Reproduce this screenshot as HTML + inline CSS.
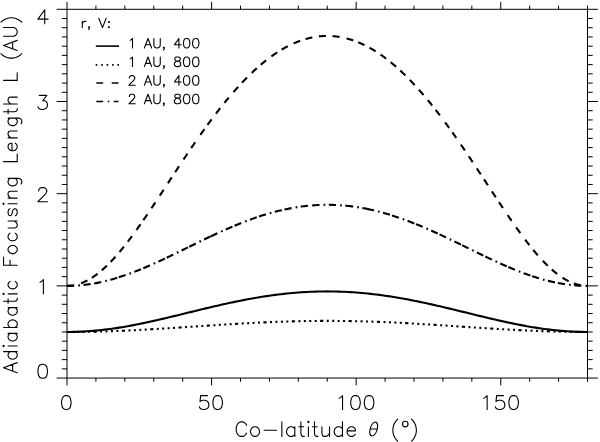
<!DOCTYPE html>
<html><head><meta charset="utf-8"><title>Adiabatic Focusing Length vs Co-latitude</title><style>html,body{margin:0;padding:0;background:#fff;overflow:hidden;font-family:"Liberation Sans",sans-serif;}svg{display:block;}.sr{position:absolute;width:1px;height:1px;padding:0;margin:-1px;overflow:hidden;clip:rect(0,0,0,0);white-space:nowrap;border:0;}</style></head>
<body><figure style="margin:0"><svg width="600" height="442" viewBox="0 0 600 442" role="img" aria-labelledby="ttl dsc">
<title id="ttl">Adiabatic Focusing Length L (AU) versus Co-latitude θ (°)</title>
<desc id="dsc">Line plot. Legend r, V: 1 AU, 400 (solid); 1 AU, 800 (dotted); 2 AU, 400 (dashed); 2 AU, 800 (dash-dot). X axis 0, 50, 100, 150. Y axis 0, 1, 2, 3, 4.</desc>
<rect width="600" height="442" fill="#fff"/>
<g>
<path d="M67.0 9.3 L587.5 9.3 M67.0 378.05 L587.5 378.05 M67.0 9.3 L67.0 378.05 M587.5 9.3 L587.5 378.05 M67.0 378.05 L56.60 378.05 M587.5 378.05 L597.90 378.05 M67.0 368.83 L61.80 368.83 M587.5 368.83 L592.70 368.83 M67.0 359.61 L61.80 359.61 M587.5 359.61 L592.70 359.61 M67.0 350.39 L61.80 350.39 M587.5 350.39 L592.70 350.39 M67.0 341.18 L61.80 341.18 M587.5 341.18 L592.70 341.18 M67.0 331.96 L61.80 331.96 M587.5 331.96 L592.70 331.96 M67.0 322.74 L61.80 322.74 M587.5 322.74 L592.70 322.74 M67.0 313.52 L61.80 313.52 M587.5 313.52 L592.70 313.52 M67.0 304.30 L61.80 304.30 M587.5 304.30 L592.70 304.30 M67.0 295.08 L61.80 295.08 M587.5 295.08 L592.70 295.08 M67.0 285.86 L56.60 285.86 M587.5 285.86 L597.90 285.86 M67.0 276.64 L61.80 276.64 M587.5 276.64 L592.70 276.64 M67.0 267.43 L61.80 267.43 M587.5 267.43 L592.70 267.43 M67.0 258.21 L61.80 258.21 M587.5 258.21 L592.70 258.21 M67.0 248.99 L61.80 248.99 M587.5 248.99 L592.70 248.99 M67.0 239.77 L61.80 239.77 M587.5 239.77 L592.70 239.77 M67.0 230.55 L61.80 230.55 M587.5 230.55 L592.70 230.55 M67.0 221.33 L61.80 221.33 M587.5 221.33 L592.70 221.33 M67.0 212.11 L61.80 212.11 M587.5 212.11 L592.70 212.11 M67.0 202.89 L61.80 202.89 M587.5 202.89 L592.70 202.89 M67.0 193.68 L56.60 193.68 M587.5 193.68 L597.90 193.68 M67.0 184.46 L61.80 184.46 M587.5 184.46 L592.70 184.46 M67.0 175.24 L61.80 175.24 M587.5 175.24 L592.70 175.24 M67.0 166.02 L61.80 166.02 M587.5 166.02 L592.70 166.02 M67.0 156.80 L61.80 156.80 M587.5 156.80 L592.70 156.80 M67.0 147.58 L61.80 147.58 M587.5 147.58 L592.70 147.58 M67.0 138.36 L61.80 138.36 M587.5 138.36 L592.70 138.36 M67.0 129.14 L61.80 129.14 M587.5 129.14 L592.70 129.14 M67.0 119.93 L61.80 119.93 M587.5 119.93 L592.70 119.93 M67.0 110.71 L61.80 110.71 M587.5 110.71 L592.70 110.71 M67.0 101.49 L56.60 101.49 M587.5 101.49 L597.90 101.49 M67.0 92.27 L61.80 92.27 M587.5 92.27 L592.70 92.27 M67.0 83.05 L61.80 83.05 M587.5 83.05 L592.70 83.05 M67.0 73.83 L61.80 73.83 M587.5 73.83 L592.70 73.83 M67.0 64.61 L61.80 64.61 M587.5 64.61 L592.70 64.61 M67.0 55.39 L61.80 55.39 M587.5 55.39 L592.70 55.39 M67.0 46.18 L61.80 46.18 M587.5 46.18 L592.70 46.18 M67.0 36.96 L61.80 36.96 M587.5 36.96 L592.70 36.96 M67.0 27.74 L61.80 27.74 M587.5 27.74 L592.70 27.74 M67.0 18.52 L61.80 18.52 M587.5 18.52 L592.70 18.52 M67.0 9.30 L56.60 9.30 M587.5 9.30 L597.90 9.30 M67.00 378.05 L67.00 385.42 M67.00 9.3 L67.00 1.93 M95.92 378.05 L95.92 381.74 M95.92 9.3 L95.92 5.61 M124.83 378.05 L124.83 381.74 M124.83 9.3 L124.83 5.61 M153.75 378.05 L153.75 381.74 M153.75 9.3 L153.75 5.61 M182.67 378.05 L182.67 381.74 M182.67 9.3 L182.67 5.61 M211.58 378.05 L211.58 385.42 M211.58 9.3 L211.58 1.93 M240.50 378.05 L240.50 381.74 M240.50 9.3 L240.50 5.61 M269.42 378.05 L269.42 381.74 M269.42 9.3 L269.42 5.61 M298.33 378.05 L298.33 381.74 M298.33 9.3 L298.33 5.61 M327.25 378.05 L327.25 381.74 M327.25 9.3 L327.25 5.61 M356.17 378.05 L356.17 385.42 M356.17 9.3 L356.17 1.93 M385.08 378.05 L385.08 381.74 M385.08 9.3 L385.08 5.61 M414.00 378.05 L414.00 381.74 M414.00 9.3 L414.00 5.61 M442.92 378.05 L442.92 381.74 M442.92 9.3 L442.92 5.61 M471.83 378.05 L471.83 381.74 M471.83 9.3 L471.83 5.61 M500.75 378.05 L500.75 385.42 M500.75 9.3 L500.75 1.93 M529.67 378.05 L529.67 381.74 M529.67 9.3 L529.67 5.61 M558.58 378.05 L558.58 381.74 M558.58 9.3 L558.58 5.61 M587.50 378.05 L587.50 381.74 M587.50 9.3 L587.50 5.61" fill="none" stroke="#000" stroke-width="1.0"/>
<path d="M42.02 364.23 L39.98 364.90 L38.62 366.91 L37.94 370.26 L37.94 372.27 L38.62 375.62 L39.98 377.63 L42.02 378.30 L43.38 378.30 L45.42 377.63 L46.78 375.62 L47.46 372.27 L47.46 370.26 L46.78 366.91 L45.42 364.90 L43.38 364.23 L42.02 364.23 M39.98 282.27 L41.34 281.60 L43.38 279.59 L43.38 293.66 M38.62 190.96 L38.62 190.29 L39.30 188.95 L39.98 188.28 L41.34 187.61 L44.06 187.61 L45.42 188.28 L46.10 188.95 L46.78 190.29 L46.78 191.62 L46.10 192.97 L44.74 194.98 L37.94 201.68 L47.46 201.68 M39.30 95.42 L46.78 95.42 L42.70 100.78 L44.74 100.78 L46.10 101.45 L46.78 102.12 L47.46 104.13 L47.46 105.47 L46.78 107.48 L45.42 108.82 L43.38 109.49 L41.34 109.49 L39.30 108.82 L38.62 108.15 L37.94 106.81 M44.74 9.73 L37.94 19.11 L48.14 19.11 M44.74 9.73 L44.74 23.80 M65.62 395.64 L63.58 396.30 L62.22 398.28 L61.54 401.58 L61.54 403.56 L62.22 406.86 L63.58 408.84 L65.62 409.50 L66.98 409.50 L69.02 408.84 L70.38 406.86 L71.06 403.56 L71.06 401.58 L70.38 398.28 L69.02 396.30 L66.98 395.64 L65.62 395.64 M207.48 395.64 L200.68 395.64 L200.00 401.58 L200.68 400.92 L202.72 400.26 L204.76 400.26 L206.80 400.92 L208.16 402.24 L208.84 404.22 L208.84 405.54 L208.16 407.52 L206.80 408.84 L204.76 409.50 L202.72 409.50 L200.68 408.84 L200.00 408.18 L199.32 406.86 M217.00 395.64 L214.96 396.30 L213.60 398.28 L212.92 401.58 L212.92 403.56 L213.60 406.86 L214.96 408.84 L217.00 409.50 L218.36 409.50 L220.40 408.84 L221.76 406.86 L222.44 403.56 L222.44 401.58 L221.76 398.28 L220.40 396.30 L218.36 395.64 L217.00 395.64 M339.15 398.28 L340.51 397.62 L342.55 395.64 L342.55 409.50 M354.79 395.64 L352.75 396.30 L351.39 398.28 L350.71 401.58 L350.71 403.56 L351.39 406.86 L352.75 408.84 L354.79 409.50 L356.15 409.50 L358.19 408.84 L359.55 406.86 L360.23 403.56 L360.23 401.58 L359.55 398.28 L358.19 396.30 L356.15 395.64 L354.79 395.64 M368.39 395.64 L366.35 396.30 L364.99 398.28 L364.31 401.58 L364.31 403.56 L364.99 406.86 L366.35 408.84 L368.39 409.50 L369.75 409.50 L371.79 408.84 L373.15 406.86 L373.83 403.56 L373.83 401.58 L373.15 398.28 L371.79 396.30 L369.75 395.64 L368.39 395.64 M483.73 398.28 L485.09 397.62 L487.13 395.64 L487.13 409.50 M503.45 395.64 L496.65 395.64 L495.97 401.58 L496.65 400.92 L498.69 400.26 L500.73 400.26 L502.77 400.92 L504.13 402.24 L504.81 404.22 L504.81 405.54 L504.13 407.52 L502.77 408.84 L500.73 409.50 L498.69 409.50 L496.65 408.84 L495.97 408.18 L495.29 406.86 M512.97 395.64 L510.93 396.30 L509.57 398.28 L508.89 401.58 L508.89 403.56 L509.57 406.86 L510.93 408.84 L512.97 409.50 L514.33 409.50 L516.37 408.84 L517.73 406.86 L518.41 403.56 L518.41 401.58 L517.73 398.28 L516.37 396.30 L514.33 395.64 L512.97 395.64 M246.57 425.36 L245.88 423.98 L244.50 422.60 L243.12 421.91 L240.36 421.91 L238.98 422.60 L237.60 423.98 L236.91 425.36 L236.22 427.43 L236.22 430.88 L236.91 432.95 L237.60 434.33 L238.98 435.71 L240.36 436.40 L243.12 436.40 L244.50 435.71 L245.88 434.33 L246.57 432.95 M253.97 426.74 L252.59 427.43 L251.21 428.81 L250.51 430.88 L250.51 432.26 L251.21 434.33 L252.59 435.71 L253.97 436.40 L256.04 436.40 L257.42 435.71 L258.80 434.33 L259.49 432.26 L259.49 430.88 L258.80 428.81 L257.42 427.43 L256.04 426.74 L253.97 426.74 M264.09 430.19 L276.51 430.19 M281.86 421.91 L281.86 436.40 M294.83 426.74 L294.83 436.40 M294.83 428.81 L293.45 427.43 L292.07 426.74 L290.00 426.74 L288.62 427.43 L287.24 428.81 L286.55 430.88 L286.55 432.26 L287.24 434.33 L288.62 435.71 L290.00 436.40 L292.07 436.40 L293.45 435.71 L294.83 434.33 M300.89 421.91 L300.89 433.64 L301.58 435.71 L302.96 436.40 L304.34 436.40 M298.82 426.74 L303.65 426.74 M307.69 421.91 L308.38 422.60 L309.07 421.91 L308.38 421.22 L307.69 421.91 M308.38 426.74 L308.38 436.40 M314.49 421.91 L314.49 433.64 L315.18 435.71 L316.56 436.40 L317.94 436.40 M312.42 426.74 L317.25 426.74 M321.93 426.74 L321.93 433.64 L322.62 435.71 L324.00 436.40 L326.07 436.40 L327.45 435.71 L329.52 433.64 M329.52 426.74 L329.52 436.40 M342.44 421.91 L342.44 436.40 M342.44 428.81 L341.06 427.43 L339.68 426.74 L337.61 426.74 L336.23 427.43 L334.85 428.81 L334.16 430.88 L334.16 432.26 L334.85 434.33 L336.23 435.71 L337.61 436.40 L339.68 436.40 L341.06 435.71 L342.44 434.33 M347.08 430.88 L355.36 430.88 L355.36 429.50 L354.67 428.12 L353.98 427.43 L352.60 426.74 L350.53 426.74 L349.15 427.43 L347.77 428.81 L347.08 430.88 L347.08 432.26 L347.77 434.33 L349.15 435.71 L350.53 436.40 L352.60 436.40 L353.98 435.71 L355.36 434.33 M397.70 419.15 L396.32 420.53 L394.94 422.60 L393.56 425.36 L392.87 428.81 L392.87 431.57 L393.56 435.02 L394.94 437.78 L396.32 439.85 L397.70 441.23 M411.50 419.15 L412.88 420.53 L414.26 422.60 L415.64 425.36 L416.33 428.81 L416.33 431.57 L415.64 435.02 L414.26 437.78 L412.88 439.85 L411.50 441.23 M130.23 40.27 L131.14 39.81 L132.51 38.45 L132.51 48.00 M147.97 38.45 L144.34 48.00 M147.97 38.45 L151.61 48.00 M145.70 44.81 L150.25 44.81 M153.89 38.45 L153.89 45.27 L154.34 46.63 L155.25 47.55 L156.62 48.00 L157.53 48.00 L158.89 47.55 L159.80 46.63 L160.26 45.27 L160.26 38.45 M164.35 47.55 L163.90 48.00 L163.44 47.55 L163.90 47.09 L164.35 47.55 L164.35 48.45 L163.90 49.37 L163.44 49.82 M178.91 38.45 L174.36 44.81 L181.19 44.81 M178.91 38.45 L178.91 48.00 M186.19 38.45 L184.83 38.90 L183.92 40.27 L183.46 42.54 L183.46 43.91 L183.92 46.18 L184.83 47.55 L186.19 48.00 L187.10 48.00 L188.47 47.55 L189.38 46.18 L189.83 43.91 L189.83 42.54 L189.38 40.27 L188.47 38.90 L187.10 38.45 L186.19 38.45 M195.29 38.45 L193.93 38.90 L193.02 40.27 L192.56 42.54 L192.56 43.91 L193.02 46.18 L193.93 47.55 L195.29 48.00 L196.20 48.00 L197.57 47.55 L198.48 46.18 L198.93 43.91 L198.93 42.54 L198.48 40.27 L197.57 38.90 L196.20 38.45 L195.29 38.45 M130.23 58.86 L131.14 58.41 L132.51 57.04 L132.51 66.60 M147.97 57.04 L144.34 66.60 M147.97 57.04 L151.61 66.60 M145.70 63.41 L150.25 63.41 M153.89 57.04 L153.89 63.87 L154.34 65.23 L155.25 66.14 L156.62 66.60 L157.53 66.60 L158.89 66.14 L159.80 65.23 L160.26 63.87 L160.26 57.04 M164.35 66.14 L163.90 66.60 L163.44 66.14 L163.90 65.69 L164.35 66.14 L164.35 67.05 L163.90 67.96 L163.44 68.42 M176.64 57.04 L175.27 57.50 L174.82 58.41 L174.82 59.32 L175.27 60.23 L176.18 60.68 L178.00 61.14 L179.37 61.59 L180.28 62.50 L180.73 63.41 L180.73 64.78 L180.28 65.69 L179.82 66.14 L178.46 66.60 L176.64 66.60 L175.27 66.14 L174.82 65.69 L174.36 64.78 L174.36 63.41 L174.82 62.50 L175.73 61.59 L177.09 61.14 L178.91 60.68 L179.82 60.23 L180.28 59.32 L180.28 58.41 L179.82 57.50 L178.46 57.04 L176.64 57.04 M186.19 57.04 L184.83 57.50 L183.92 58.86 L183.46 61.14 L183.46 62.50 L183.92 64.78 L184.83 66.14 L186.19 66.60 L187.10 66.60 L188.47 66.14 L189.38 64.78 L189.83 62.50 L189.83 61.14 L189.38 58.86 L188.47 57.50 L187.10 57.04 L186.19 57.04 M195.29 57.04 L193.93 57.50 L193.02 58.86 L192.56 61.14 L192.56 62.50 L193.02 64.78 L193.93 66.14 L195.29 66.60 L196.20 66.60 L197.57 66.14 L198.48 64.78 L198.93 62.50 L198.93 61.14 L198.48 58.86 L197.57 57.50 L196.20 57.04 L195.29 57.04 M129.32 77.92 L129.32 77.47 L129.78 76.56 L130.23 76.10 L131.14 75.65 L132.96 75.65 L133.87 76.10 L134.33 76.56 L134.78 77.47 L134.78 78.38 L134.33 79.28 L133.42 80.65 L128.87 85.20 L135.24 85.20 M147.97 75.65 L144.34 85.20 M147.97 75.65 L151.61 85.20 M145.70 82.02 L150.25 82.02 M153.89 75.65 L153.89 82.47 L154.34 83.84 L155.25 84.75 L156.62 85.20 L157.53 85.20 L158.89 84.75 L159.80 83.84 L160.26 82.47 L160.26 75.65 M164.35 84.75 L163.90 85.20 L163.44 84.75 L163.90 84.29 L164.35 84.75 L164.35 85.66 L163.90 86.56 L163.44 87.02 M178.91 75.65 L174.36 82.02 L181.19 82.02 M178.91 75.65 L178.91 85.20 M186.19 75.65 L184.83 76.10 L183.92 77.47 L183.46 79.74 L183.46 81.11 L183.92 83.38 L184.83 84.75 L186.19 85.20 L187.10 85.20 L188.47 84.75 L189.38 83.38 L189.83 81.11 L189.83 79.74 L189.38 77.47 L188.47 76.10 L187.10 75.65 L186.19 75.65 M195.29 75.65 L193.93 76.10 L193.02 77.47 L192.56 79.74 L192.56 81.11 L193.02 83.38 L193.93 84.75 L195.29 85.20 L196.20 85.20 L197.57 84.75 L198.48 83.38 L198.93 81.11 L198.93 79.74 L198.48 77.47 L197.57 76.10 L196.20 75.65 L195.29 75.65 M129.32 96.52 L129.32 96.06 L129.78 95.16 L130.23 94.70 L131.14 94.25 L132.96 94.25 L133.87 94.70 L134.33 95.16 L134.78 96.06 L134.78 96.97 L134.33 97.88 L133.42 99.25 L128.87 103.80 L135.24 103.80 M147.97 94.25 L144.34 103.80 M147.97 94.25 L151.61 103.80 M145.70 100.61 L150.25 100.61 M153.89 94.25 L153.89 101.07 L154.34 102.44 L155.25 103.34 L156.62 103.80 L157.53 103.80 L158.89 103.34 L159.80 102.44 L160.26 101.07 L160.26 94.25 M164.35 103.34 L163.90 103.80 L163.44 103.34 L163.90 102.89 L164.35 103.34 L164.35 104.25 L163.90 105.16 L163.44 105.62 M176.64 94.25 L175.27 94.70 L174.82 95.61 L174.82 96.52 L175.27 97.43 L176.18 97.88 L178.00 98.34 L179.37 98.80 L180.28 99.70 L180.73 100.61 L180.73 101.98 L180.28 102.89 L179.82 103.34 L178.46 103.80 L176.64 103.80 L175.27 103.34 L174.82 102.89 L174.36 101.98 L174.36 100.61 L174.82 99.70 L175.73 98.80 L177.09 98.34 L178.91 97.88 L179.82 97.43 L180.28 96.52 L180.28 95.61 L179.82 94.70 L178.46 94.25 L176.64 94.25 M186.19 94.25 L184.83 94.70 L183.92 96.06 L183.46 98.34 L183.46 99.70 L183.92 101.98 L184.83 103.34 L186.19 103.80 L187.10 103.80 L188.47 103.34 L189.38 101.98 L189.83 99.70 L189.83 98.34 L189.38 96.06 L188.47 94.70 L187.10 94.25 L186.19 94.25 M195.29 94.25 L193.93 94.70 L193.02 96.06 L192.56 98.34 L192.56 99.70 L193.02 101.98 L193.93 103.34 L195.29 103.80 L196.20 103.80 L197.57 103.34 L198.48 101.98 L198.93 99.70 L198.93 98.34 L198.48 96.06 L197.57 94.70 L196.20 94.25 L195.29 94.25 M82.31 21.37 L82.31 27.60 M82.31 24.04 L82.77 22.71 L83.69 21.82 L84.61 21.37 L85.99 21.37 M89.49 27.16 L89.03 27.60 L88.58 27.16 L89.03 26.71 L89.49 27.16 L89.49 28.05 L89.03 28.94 L88.58 29.38 M98.80 18.26 L102.48 27.60 M106.16 18.26 L102.48 27.60" fill="none" stroke="#000" stroke-width="1.1" stroke-linecap="round" stroke-linejoin="round"/>
<rect x="108.0" y="21.1" width="1.8" height="1.8" fill="#000"/><rect x="108.0" y="26.3" width="1.8" height="1.8" fill="#000"/>
<path transform="translate(17.2 373.75) rotate(-90)" d="M6.09 -13.65 L1.05 0.00 M6.09 -13.65 L11.13 0.00 M2.94 -4.55 L9.24 -4.55 M22.08 -13.65 L22.08 0.00 M22.08 -7.15 L20.82 -8.45 L19.56 -9.10 L17.67 -9.10 L16.41 -8.45 L15.15 -7.15 L14.52 -5.20 L14.52 -3.90 L15.15 -1.95 L16.41 -0.65 L17.67 0.00 L19.56 0.00 L20.82 -0.65 L22.08 -1.95 M27.13 -13.65 L27.76 -13.00 L28.39 -13.65 L27.76 -14.30 L27.13 -13.65 M27.76 -9.10 L27.76 0.00 M40.36 -9.10 L40.36 0.00 M40.36 -7.15 L39.10 -8.45 L37.84 -9.10 L35.95 -9.10 L34.69 -8.45 L33.43 -7.15 L32.80 -5.20 L32.80 -3.90 L33.43 -1.95 L34.69 -0.65 L35.95 0.00 L37.84 0.00 L39.10 -0.65 L40.36 -1.95 M46.29 -13.65 L46.29 0.00 M46.29 -7.15 L47.55 -8.45 L48.81 -9.10 L50.70 -9.10 L51.96 -8.45 L53.22 -7.15 L53.85 -5.20 L53.85 -3.90 L53.22 -1.95 L51.96 -0.65 L50.70 0.00 L48.81 0.00 L47.55 -0.65 L46.29 -1.95 M66.09 -9.10 L66.09 0.00 M66.09 -7.15 L64.83 -8.45 L63.57 -9.10 L61.68 -9.10 L60.42 -8.45 L59.16 -7.15 L58.53 -5.20 L58.53 -3.90 L59.16 -1.95 L60.42 -0.65 L61.68 0.00 L63.57 0.00 L64.83 -0.65 L66.09 -1.95 M72.49 -13.65 L72.49 -2.60 L73.12 -0.65 L74.38 0.00 L75.64 0.00 M70.60 -9.10 L75.01 -9.10 M79.26 -13.65 L79.89 -13.00 L80.52 -13.65 L79.89 -14.30 L79.26 -13.65 M79.89 -9.10 L79.89 0.00 M92.47 -7.15 L91.21 -8.45 L89.95 -9.10 L88.06 -9.10 L86.80 -8.45 L85.54 -7.15 L84.91 -5.20 L84.91 -3.90 L85.54 -1.95 L86.80 -0.65 L88.06 0.00 L89.95 0.00 L91.21 -0.65 L92.47 -1.95 M108.55 -13.65 L108.55 0.00 M108.55 -13.65 L116.75 -13.65 M108.55 -7.15 L113.59 -7.15 M123.28 -9.10 L122.02 -8.45 L120.76 -7.15 L120.13 -5.20 L120.13 -3.90 L120.76 -1.95 L122.02 -0.65 L123.28 0.00 L125.17 0.00 L126.43 -0.65 L127.69 -1.95 L128.32 -3.90 L128.32 -5.20 L127.69 -7.15 L126.43 -8.45 L125.17 -9.10 L123.28 -9.10 M140.53 -7.15 L139.27 -8.45 L138.01 -9.10 L136.12 -9.10 L134.86 -8.45 L133.60 -7.15 L132.97 -5.20 L132.97 -3.90 L133.60 -1.95 L134.86 -0.65 L136.12 0.00 L138.01 0.00 L139.27 -0.65 L140.53 -1.95 M145.81 -9.10 L145.81 -2.60 L146.44 -0.65 L147.70 0.00 L149.59 0.00 L150.85 -0.65 L152.74 -2.60 M152.74 -9.10 L152.74 0.00 M164.93 -7.15 L164.30 -8.45 L162.41 -9.10 L160.52 -9.10 L158.63 -8.45 L158.00 -7.15 L158.63 -5.85 L159.89 -5.20 L163.04 -4.55 L164.30 -3.90 L164.93 -2.60 L164.93 -1.95 L164.30 -0.65 L162.41 0.00 L160.52 0.00 L158.63 -0.65 L158.00 -1.95 M169.30 -13.65 L169.93 -13.00 L170.56 -13.65 L169.93 -14.30 L169.30 -13.65 M169.93 -9.10 L169.93 0.00 M175.60 -9.10 L175.60 0.00 M175.60 -6.50 L177.49 -8.45 L178.75 -9.10 L180.64 -9.10 L181.90 -8.45 L182.53 -6.50 L182.53 0.00 M195.39 -9.10 L195.39 1.30 L194.76 3.25 L194.13 3.90 L192.87 4.55 L190.98 4.55 L189.72 3.90 M195.39 -7.15 L194.13 -8.45 L192.87 -9.10 L190.98 -9.10 L189.72 -8.45 L188.46 -7.15 L187.83 -5.20 L187.83 -3.90 L188.46 -1.95 L189.72 -0.65 L190.98 0.00 L192.87 0.00 L194.13 -0.65 L195.39 -1.95 M212.11 -13.65 L212.11 0.00 M212.11 0.00 L219.67 0.00 M223.01 -5.20 L230.57 -5.20 L230.57 -6.50 L229.94 -7.80 L229.31 -8.45 L228.05 -9.10 L226.16 -9.10 L224.91 -8.45 L223.64 -7.15 L223.01 -5.20 L223.01 -3.90 L223.64 -1.95 L224.91 -0.65 L226.16 0.00 L228.05 0.00 L229.31 -0.65 L230.57 -1.95 M235.85 -9.10 L235.85 0.00 M235.85 -6.50 L237.74 -8.45 L239.00 -9.10 L240.89 -9.10 L242.15 -8.45 L242.78 -6.50 L242.78 0.00 M255.65 -9.10 L255.65 1.30 L255.02 3.25 L254.39 3.90 L253.13 4.55 L251.24 4.55 L249.98 3.90 M255.65 -7.15 L254.39 -8.45 L253.13 -9.10 L251.24 -9.10 L249.98 -8.45 L248.72 -7.15 L248.09 -5.20 L248.09 -3.90 L248.72 -1.95 L249.98 -0.65 L251.24 0.00 L253.13 0.00 L254.39 -0.65 L255.65 -1.95 M262.05 -13.65 L262.05 -2.60 L262.68 -0.65 L263.94 0.00 L265.20 0.00 M260.16 -9.10 L264.57 -9.10 M269.70 -13.65 L269.70 0.00 M269.70 -6.50 L271.59 -8.45 L272.85 -9.10 L274.74 -9.10 L276.00 -8.45 L276.63 -6.50 L276.63 0.00 M293.35 -13.65 L293.35 0.00 M293.35 0.00 L300.91 0.00 M320.03 -16.25 L318.77 -14.95 L317.51 -13.00 L316.25 -10.40 L315.62 -7.15 L315.62 -4.55 L316.25 -1.30 L317.51 1.30 L318.77 3.25 L320.03 4.55 M328.35 -13.65 L323.31 0.00 M328.35 -13.65 L333.39 0.00 M325.20 -4.55 L331.50 -4.55 M337.48 -13.65 L337.48 -3.90 L338.11 -1.95 L339.37 -0.65 L341.26 0.00 L342.52 0.00 L344.41 -0.65 L345.67 -1.95 L346.30 -3.90 L346.30 -13.65 M351.55 -16.25 L352.81 -14.95 L354.07 -13.00 L355.33 -10.40 L355.96 -7.15 L355.96 -4.55 L355.33 -1.30 L354.07 1.30 L352.81 3.25 L351.55 4.55" fill="none" stroke="#000" stroke-width="1.1" stroke-linecap="round" stroke-linejoin="round"/>
<g transform="translate(373.7 429.0) skewX(-13)"><ellipse rx="3.6" ry="7.0" fill="none" stroke="#000" stroke-width="1.1"/><path d="M-3.6 0 L3.6 0" stroke="#000" stroke-width="1.1"/></g>
<circle cx="405.25" cy="424.1" r="2.8" fill="none" stroke="#000" stroke-width="1.1"/>
<path d="M67.00 331.96 L69.89 331.94 L72.78 331.90 L75.67 331.83 L78.57 331.73 L81.46 331.61 L84.35 331.46 L87.24 331.28 L90.13 331.07 L93.03 330.84 L95.92 330.58 L98.81 330.30 L101.70 329.99 L104.59 329.66 L107.48 329.30 L110.38 328.92 L113.27 328.51 L116.16 328.09 L119.05 327.64 L121.94 327.17 L124.83 326.68 L127.72 326.18 L130.62 325.65 L133.51 325.11 L136.40 324.55 L139.29 323.97 L142.18 323.38 L145.07 322.77 L147.97 322.15 L150.86 321.52 L153.75 320.88 L156.64 320.22 L159.53 319.56 L162.43 318.89 L165.32 318.20 L168.21 317.52 L171.10 316.82 L173.99 316.13 L176.88 315.42 L179.78 314.72 L182.67 314.01 L185.56 313.30 L188.45 312.59 L191.34 311.88 L194.23 311.17 L197.12 310.47 L200.02 309.77 L202.91 309.07 L205.80 308.37 L208.69 307.68 L211.58 307.00 L214.47 306.32 L217.37 305.66 L220.26 305.00 L223.15 304.35 L226.04 303.71 L228.93 303.08 L231.82 302.46 L234.72 301.85 L237.61 301.26 L240.50 300.67 L243.39 300.11 L246.28 299.55 L249.18 299.01 L252.07 298.49 L254.96 297.98 L257.85 297.49 L260.74 297.01 L263.63 296.55 L266.52 296.11 L269.42 295.69 L272.31 295.28 L275.20 294.90 L278.09 294.53 L280.98 294.18 L283.88 293.85 L286.77 293.54 L289.66 293.26 L292.55 292.99 L295.44 292.74 L298.33 292.51 L301.23 292.31 L304.12 292.12 L307.01 291.96 L309.90 291.82 L312.79 291.70 L315.68 291.60 L318.57 291.52 L321.47 291.47 L324.36 291.44 L327.25 291.42 L330.14 291.44 L333.03 291.47 L335.93 291.52 L338.82 291.60 L341.71 291.70 L344.60 291.82 L347.49 291.96 L350.38 292.12 L353.27 292.31 L356.17 292.51 L359.06 292.74 L361.95 292.99 L364.84 293.26 L367.73 293.54 L370.62 293.85 L373.52 294.18 L376.41 294.53 L379.30 294.90 L382.19 295.28 L385.08 295.69 L387.98 296.11 L390.87 296.55 L393.76 297.01 L396.65 297.49 L399.54 297.98 L402.43 298.49 L405.32 299.01 L408.22 299.55 L411.11 300.11 L414.00 300.67 L416.89 301.26 L419.78 301.85 L422.68 302.46 L425.57 303.08 L428.46 303.71 L431.35 304.35 L434.24 305.00 L437.13 305.66 L440.02 306.32 L442.92 307.00 L445.81 307.68 L448.70 308.37 L451.59 309.07 L454.48 309.77 L457.38 310.47 L460.27 311.17 L463.16 311.88 L466.05 312.59 L468.94 313.30 L471.83 314.01 L474.73 314.72 L477.62 315.42 L480.51 316.13 L483.40 316.82 L486.29 317.52 L489.18 318.20 L492.07 318.89 L494.97 319.56 L497.86 320.22 L500.75 320.88 L503.64 321.52 L506.53 322.15 L509.43 322.77 L512.32 323.38 L515.21 323.97 L518.10 324.55 L520.99 325.11 L523.88 325.65 L526.77 326.18 L529.67 326.68 L532.56 327.17 L535.45 327.64 L538.34 328.09 L541.23 328.51 L544.12 328.92 L547.02 329.30 L549.91 329.66 L552.80 329.99 L555.69 330.30 L558.58 330.58 L561.48 330.84 L564.37 331.07 L567.26 331.28 L570.15 331.46 L573.04 331.61 L575.93 331.73 L578.83 331.83 L581.72 331.90 L584.61 331.94 L587.50 331.96" fill="none" stroke="#000" stroke-width="2.1"/>
<path d="M67.00 331.96 L69.89 331.95 L72.78 331.94 L75.67 331.92 L78.57 331.90 L81.46 331.87 L84.35 331.83 L87.24 331.79 L90.13 331.73 L93.03 331.68 L95.92 331.61 L98.81 331.54 L101.70 331.46 L104.59 331.38 L107.48 331.29 L110.38 331.19 L113.27 331.09 L116.16 330.98 L119.05 330.87 L121.94 330.75 L124.83 330.62 L127.72 330.49 L130.62 330.36 L133.51 330.22 L136.40 330.07 L139.29 329.93 L142.18 329.77 L145.07 329.62 L147.97 329.45 L150.86 329.29 L153.75 329.12 L156.64 328.95 L159.53 328.77 L162.43 328.60 L165.32 328.42 L168.21 328.23 L171.10 328.05 L173.99 327.86 L176.88 327.67 L179.78 327.48 L182.67 327.29 L185.56 327.10 L188.45 326.91 L191.34 326.72 L194.23 326.52 L197.12 326.33 L200.02 326.14 L202.91 325.94 L205.80 325.75 L208.69 325.56 L211.58 325.37 L214.47 325.18 L217.37 324.99 L220.26 324.81 L223.15 324.63 L226.04 324.44 L228.93 324.27 L231.82 324.09 L234.72 323.92 L237.61 323.75 L240.50 323.58 L243.39 323.42 L246.28 323.26 L249.18 323.10 L252.07 322.95 L254.96 322.80 L257.85 322.66 L260.74 322.52 L263.63 322.39 L266.52 322.26 L269.42 322.14 L272.31 322.02 L275.20 321.90 L278.09 321.80 L280.98 321.69 L283.88 321.60 L286.77 321.51 L289.66 321.42 L292.55 321.34 L295.44 321.27 L298.33 321.20 L301.23 321.14 L304.12 321.08 L307.01 321.04 L309.90 320.99 L312.79 320.96 L315.68 320.93 L318.57 320.91 L321.47 320.89 L324.36 320.88 L327.25 320.88 L330.14 320.88 L333.03 320.89 L335.93 320.91 L338.82 320.93 L341.71 320.96 L344.60 320.99 L347.49 321.04 L350.38 321.08 L353.27 321.14 L356.17 321.20 L359.06 321.27 L361.95 321.34 L364.84 321.42 L367.73 321.51 L370.62 321.60 L373.52 321.69 L376.41 321.80 L379.30 321.90 L382.19 322.02 L385.08 322.14 L387.98 322.26 L390.87 322.39 L393.76 322.52 L396.65 322.66 L399.54 322.80 L402.43 322.95 L405.32 323.10 L408.22 323.26 L411.11 323.42 L414.00 323.58 L416.89 323.75 L419.78 323.92 L422.68 324.09 L425.57 324.27 L428.46 324.44 L431.35 324.63 L434.24 324.81 L437.13 324.99 L440.02 325.18 L442.92 325.37 L445.81 325.56 L448.70 325.75 L451.59 325.94 L454.48 326.14 L457.38 326.33 L460.27 326.52 L463.16 326.72 L466.05 326.91 L468.94 327.10 L471.83 327.29 L474.73 327.48 L477.62 327.67 L480.51 327.86 L483.40 328.05 L486.29 328.23 L489.18 328.42 L492.07 328.60 L494.97 328.77 L497.86 328.95 L500.75 329.12 L503.64 329.29 L506.53 329.45 L509.43 329.62 L512.32 329.77 L515.21 329.93 L518.10 330.07 L520.99 330.22 L523.88 330.36 L526.77 330.49 L529.67 330.62 L532.56 330.75 L535.45 330.87 L538.34 330.98 L541.23 331.09 L544.12 331.19 L547.02 331.29 L549.91 331.38 L552.80 331.46 L555.69 331.54 L558.58 331.61 L561.48 331.68 L564.37 331.73 L567.26 331.79 L570.15 331.83 L573.04 331.87 L575.93 331.90 L578.83 331.92 L581.72 331.94 L584.61 331.95 L587.50 331.96" fill="none" stroke="#000" stroke-width="2.1" stroke-dasharray="2 3.43 2 3.43 2 3.43 2 3.43 2 3.43 1.22 0" stroke-dashoffset="0.7"/>
<path d="M67.00 285.86 L67.07 285.86 L67.14 285.86 L67.22 285.86 L67.29 285.86 L67.36 285.86 L67.43 285.86 L67.51 285.86 L67.58 285.86 L67.65 285.86 L67.72 285.86 L67.80 285.85 L67.87 285.85 L67.94 285.85 L68.01 285.85 L68.08 285.85 L68.16 285.84 L68.23 285.84 L68.30 285.84 L68.37 285.84 L68.45 285.83 L68.52 285.83 L68.59 285.83 L68.66 285.83 L68.73 285.82 L68.81 285.82 L68.88 285.82 L68.95 285.81 L69.02 285.81 L69.10 285.80 L69.17 285.80 L69.24 285.80 L69.31 285.79 L69.39 285.79 L69.46 285.78 L69.53 285.78 L69.60 285.77 L69.67 285.77 L69.75 285.76 L69.82 285.76 L69.89 285.75 L69.96 285.75 L70.04 285.74 L70.11 285.73 L70.18 285.73 L70.25 285.72 L70.33 285.72 L70.40 285.71 L70.47 285.70 L70.54 285.70 L70.61 285.69 L70.69 285.68 L70.76 285.67 L70.83 285.67 L70.90 285.66 L70.98 285.65 L71.05 285.64 L71.12 285.64 L71.19 285.63 L71.27 285.62 L71.34 285.61 L71.41 285.60 L71.48 285.59 L71.55 285.59 L71.63 285.58 L71.70 285.57 L71.77 285.56 L71.84 285.55 L71.92 285.54 L71.99 285.53 L72.06 285.52 L72.13 285.51 L72.20 285.50 L72.28 285.49 L72.35 285.48 L72.42 285.47 L72.49 285.46 L72.57 285.45 L72.64 285.44 L72.71 285.43 L72.78 285.42 L72.86 285.41 L72.93 285.39 L73.00 285.38 L73.07 285.37 L73.14 285.36 L73.22 285.35 L73.29 285.34 L73.36 285.32 L73.43 285.31 L73.51 285.30 L73.58 285.29 L73.65 285.27 L73.72 285.26 L73.80 285.25 L73.87 285.23 L73.94 285.22 L74.01 285.21 M81.02 283.26 L81.10 283.23 L81.17 283.20 L81.24 283.18 L81.31 283.15 L81.39 283.12 L81.46 283.09 L81.53 283.07 L81.60 283.04 L81.68 283.01 L81.75 282.98 L81.82 282.96 L81.89 282.93 L81.96 282.90 L82.04 282.87 L82.11 282.84 L82.18 282.81 L82.25 282.78 L82.33 282.75 L82.40 282.73 L82.47 282.70 L82.54 282.67 L82.62 282.64 L82.69 282.61 L82.76 282.58 L82.83 282.55 L82.90 282.52 L82.98 282.49 L83.05 282.46 L83.12 282.43 L83.19 282.40 L83.27 282.36 L83.34 282.33 L83.41 282.30 L83.48 282.27 L83.55 282.24 L83.63 282.21 L83.70 282.18 L83.77 282.15 L83.84 282.11 L83.92 282.08 L83.99 282.05 L84.06 282.02 L84.13 281.99 L84.21 281.95 L84.28 281.92 L84.35 281.89 L84.42 281.85 L84.49 281.82 L84.57 281.79 L84.64 281.75 L84.71 281.72 L84.78 281.69 L84.86 281.65 L84.93 281.62 L85.00 281.59 L85.07 281.55 L85.15 281.52 L85.22 281.48 L85.29 281.45 L85.36 281.41 L85.43 281.38 L85.51 281.35 L85.58 281.31 L85.65 281.28 L85.72 281.24 L85.80 281.20 L85.87 281.17 L85.94 281.13 L86.01 281.10 L86.08 281.06 L86.16 281.03 L86.23 280.99 L86.30 280.95 L86.37 280.92 L86.45 280.88 L86.52 280.84 L86.59 280.81 L86.66 280.77 L86.74 280.73 L86.81 280.70 L86.88 280.66 L86.95 280.62 L87.02 280.58 L87.10 280.55 L87.17 280.51 L87.24 280.47 L87.31 280.43 L87.39 280.39 M91.87 277.77 L91.94 277.73 L92.01 277.68 L92.09 277.63 L92.16 277.59 L92.23 277.54 L92.30 277.49 L92.37 277.45 L92.45 277.40 L92.52 277.35 L92.59 277.31 L92.66 277.26 L92.74 277.21 L92.81 277.16 L92.88 277.12 L92.95 277.07 L93.03 277.02 L93.10 276.97 L93.17 276.92 L93.24 276.87 L93.31 276.83 L93.39 276.78 L93.46 276.73 L93.53 276.68 L93.60 276.63 L93.68 276.58 L93.75 276.53 L93.82 276.48 L93.89 276.43 L93.96 276.38 L94.04 276.33 L94.11 276.28 L94.18 276.23 L94.25 276.18 L94.33 276.13 L94.40 276.08 L94.47 276.03 L94.54 275.98 L94.62 275.93 L94.69 275.88 L94.76 275.83 L94.83 275.78 L94.90 275.73 L94.98 275.68 L95.05 275.62 L95.12 275.57 L95.19 275.52 L95.27 275.47 L95.34 275.42 L95.41 275.36 L95.48 275.31 L95.56 275.26 L95.63 275.21 L95.70 275.16 L95.77 275.10 L95.84 275.05 L95.92 275.00 L95.99 274.94 L96.06 274.89 L96.13 274.84 L96.21 274.78 L96.28 274.73 L96.35 274.68 L96.42 274.62 L96.50 274.57 L96.57 274.52 L96.64 274.46 L96.71 274.41 L96.78 274.35 L96.86 274.30 L96.93 274.24 L97.00 274.19 L97.07 274.13 L97.15 274.08 L97.22 274.02 L97.29 273.97 L97.36 273.91 L97.43 273.86 L97.51 273.80 L97.58 273.75 M101.77 270.32 L101.84 270.26 L101.92 270.20 L101.99 270.14 L102.06 270.07 L102.13 270.01 L102.21 269.95 L102.28 269.89 L102.35 269.82 L102.42 269.76 L102.50 269.70 L102.57 269.63 L102.64 269.57 L102.71 269.51 L102.78 269.44 L102.86 269.38 L102.93 269.31 L103.00 269.25 L103.07 269.19 L103.15 269.12 L103.22 269.06 L103.29 268.99 L103.36 268.93 L103.44 268.86 L103.51 268.80 L103.58 268.73 L103.65 268.67 L103.72 268.60 L103.80 268.54 L103.87 268.47 L103.94 268.41 L104.01 268.34 L104.09 268.28 L104.16 268.21 L104.23 268.14 L104.30 268.08 L104.37 268.01 L104.45 267.95 L104.52 267.88 L104.59 267.81 L104.66 267.75 L104.74 267.68 L104.81 267.61 L104.88 267.55 L104.95 267.48 L105.03 267.41 L105.10 267.35 L105.17 267.28 L105.24 267.21 L105.31 267.14 L105.39 267.08 L105.46 267.01 L105.53 266.94 L105.60 266.87 L105.68 266.80 L105.75 266.74 L105.82 266.67 L105.89 266.60 L105.97 266.53 L106.04 266.46 L106.11 266.39 L106.18 266.32 L106.25 266.26 L106.33 266.19 L106.40 266.12 L106.47 266.05 L106.54 265.98 L106.62 265.91 L106.69 265.84 L106.76 265.77 L106.83 265.70 L106.91 265.63 M110.66 261.86 L110.74 261.79 L110.81 261.71 L110.88 261.64 L110.95 261.56 L111.03 261.49 L111.10 261.41 L111.17 261.34 L111.24 261.26 L111.31 261.19 L111.39 261.11 L111.46 261.03 L111.53 260.96 L111.60 260.88 L111.68 260.81 L111.75 260.73 L111.82 260.65 L111.89 260.58 L111.97 260.50 L112.04 260.42 L112.11 260.35 L112.18 260.27 L112.25 260.19 L112.33 260.11 L112.40 260.04 L112.47 259.96 L112.54 259.88 L112.62 259.81 L112.69 259.73 L112.76 259.65 L112.83 259.57 L112.91 259.49 L112.98 259.42 L113.05 259.34 L113.12 259.26 L113.19 259.18 L113.27 259.10 L113.34 259.03 L113.41 258.95 L113.48 258.87 L113.56 258.79 L113.63 258.71 L113.70 258.63 L113.77 258.55 L113.84 258.47 L113.92 258.39 L113.99 258.32 L114.06 258.24 L114.13 258.16 L114.21 258.08 L114.28 258.00 L114.35 257.92 L114.42 257.84 L114.50 257.76 L114.57 257.68 L114.64 257.60 L114.71 257.52 L114.78 257.44 L114.86 257.36 L114.93 257.28 L115.00 257.20 L115.07 257.12 L115.15 257.04 L115.22 256.96 L115.29 256.87 L115.36 256.79 L115.44 256.71 M119.48 252.04 L119.56 251.96 L119.63 251.87 L119.70 251.78 L119.77 251.70 L119.85 251.61 L119.92 251.53 L119.99 251.44 L120.06 251.35 L120.13 251.27 L120.21 251.18 L120.28 251.09 L120.35 251.01 L120.42 250.92 L120.50 250.83 L120.57 250.75 L120.64 250.66 L120.71 250.57 L120.78 250.49 L120.86 250.40 L120.93 250.31 L121.00 250.22 L121.07 250.14 L121.15 250.05 L121.22 249.96 L121.29 249.87 L121.36 249.79 L121.44 249.70 L121.51 249.61 L121.58 249.52 L121.65 249.43 L121.72 249.35 L121.80 249.26 L121.87 249.17 L121.94 249.08 L122.01 248.99 L122.09 248.90 L122.16 248.82 L122.23 248.73 L122.30 248.64 L122.38 248.55 L122.45 248.46 L122.52 248.37 L122.59 248.28 L122.66 248.19 L122.74 248.10 L122.81 248.02 L122.88 247.93 L122.95 247.84 L123.03 247.75 L123.10 247.66 L123.17 247.57 L123.24 247.48 L123.32 247.39 L123.39 247.30 L123.46 247.21 L123.53 247.12 L123.60 247.03 L123.68 246.94 L123.75 246.85 L123.82 246.76 L123.89 246.67 M127.80 241.69 L127.87 241.59 L127.94 241.50 L128.01 241.41 L128.09 241.31 L128.16 241.22 L128.23 241.12 L128.30 241.03 L128.38 240.93 L128.45 240.84 L128.52 240.74 L128.59 240.65 L128.66 240.56 L128.74 240.46 L128.81 240.37 L128.88 240.27 L128.95 240.18 L129.03 240.08 L129.10 239.99 L129.17 239.89 L129.24 239.80 L129.32 239.70 L129.39 239.60 L129.46 239.51 L129.53 239.41 L129.60 239.32 L129.68 239.22 L129.75 239.13 L129.82 239.03 L129.89 238.94 L129.97 238.84 L130.04 238.74 L130.11 238.65 L130.18 238.55 L130.26 238.46 L130.33 238.36 L130.40 238.26 L130.47 238.17 L130.54 238.07 L130.62 237.97 L130.69 237.88 L130.76 237.78 L130.83 237.68 L130.91 237.59 L130.98 237.49 L131.05 237.39 L131.12 237.30 L131.19 237.20 L131.27 237.10 L131.34 237.01 L131.41 236.91 L131.48 236.81 L131.56 236.72 L131.63 236.62 L131.70 236.52 L131.77 236.42 L131.85 236.33 L131.92 236.23 L131.99 236.13 M136.47 229.98 L136.54 229.88 L136.62 229.78 L136.69 229.68 L136.76 229.58 L136.83 229.48 L136.91 229.38 L136.98 229.27 L137.05 229.17 L137.12 229.07 L137.20 228.97 L137.27 228.87 L137.34 228.77 L137.41 228.67 L137.48 228.57 L137.56 228.46 L137.63 228.36 L137.70 228.26 L137.77 228.16 L137.85 228.06 L137.92 227.96 L137.99 227.85 L138.06 227.75 L138.13 227.65 L138.21 227.55 L138.28 227.45 L138.35 227.34 L138.42 227.24 L138.50 227.14 L138.57 227.04 L138.64 226.94 L138.71 226.83 L138.79 226.73 L138.86 226.63 L138.93 226.53 L139.00 226.42 L139.07 226.32 L139.15 226.22 L139.22 226.12 L139.29 226.01 L139.36 225.91 L139.44 225.81 L139.51 225.71 L139.58 225.60 L139.65 225.50 L139.73 225.40 L139.80 225.30 L139.87 225.19 L139.94 225.09 L140.01 224.99 L140.09 224.88 L140.16 224.78 L140.23 224.68 L140.30 224.57 L140.38 224.47 L140.45 224.37 L140.52 224.26 M143.34 220.21 L143.41 220.10 L143.48 220.00 L143.56 219.89 L143.63 219.79 L143.70 219.68 L143.77 219.58 L143.85 219.47 L143.92 219.37 L143.99 219.26 L144.06 219.16 L144.14 219.05 L144.21 218.95 L144.28 218.84 L144.35 218.74 L144.42 218.63 L144.50 218.52 L144.57 218.42 L144.64 218.31 L144.71 218.21 L144.79 218.10 L144.86 218.00 L144.93 217.89 L145.00 217.79 L145.07 217.68 L145.15 217.58 L145.22 217.47 L145.29 217.36 L145.36 217.26 L145.44 217.15 L145.51 217.05 L145.58 216.94 L145.65 216.83 L145.73 216.73 L145.80 216.62 L145.87 216.52 L145.94 216.41 L146.01 216.30 L146.09 216.20 L146.16 216.09 L146.23 215.99 L146.30 215.88 L146.38 215.77 L146.45 215.67 L146.52 215.56 L146.59 215.46 L146.67 215.35 L146.74 215.24 L146.81 215.14 L146.88 215.03 L146.95 214.92 L147.03 214.82 L147.10 214.71 L147.17 214.60 L147.24 214.50 L147.32 214.39 M151.44 208.27 L151.51 208.16 L151.58 208.05 L151.65 207.94 L151.73 207.84 L151.80 207.73 L151.87 207.62 L151.94 207.51 L152.01 207.40 L152.09 207.30 L152.16 207.19 L152.23 207.08 L152.30 206.97 L152.38 206.86 L152.45 206.75 L152.52 206.64 L152.59 206.54 L152.67 206.43 L152.74 206.32 L152.81 206.21 L152.88 206.10 L152.95 205.99 L153.03 205.89 L153.10 205.78 L153.17 205.67 L153.24 205.56 L153.32 205.45 L153.39 205.34 L153.46 205.23 L153.53 205.12 L153.61 205.02 L153.68 204.91 L153.75 204.80 L153.82 204.69 L153.89 204.58 L153.97 204.47 L154.04 204.36 L154.11 204.25 L154.18 204.15 L154.26 204.04 L154.33 203.93 L154.40 203.82 L154.47 203.71 L154.55 203.60 L154.62 203.49 L154.69 203.38 L154.76 203.27 L154.83 203.16 L154.91 203.06 L154.98 202.95 L155.05 202.84 L155.12 202.73 L155.20 202.62 L155.27 202.51 L155.34 202.40 M159.82 195.60 L159.89 195.49 L159.97 195.38 L160.04 195.27 L160.11 195.16 L160.18 195.05 L160.26 194.94 L160.33 194.83 L160.40 194.72 L160.47 194.61 L160.55 194.50 L160.62 194.39 L160.69 194.28 L160.76 194.17 L160.83 194.06 L160.91 193.95 L160.98 193.84 L161.05 193.73 L161.12 193.62 L161.20 193.51 L161.27 193.40 L161.34 193.29 L161.41 193.18 L161.49 193.07 L161.56 192.96 L161.63 192.85 L161.70 192.74 L161.77 192.63 L161.85 192.52 L161.92 192.41 L161.99 192.30 L162.06 192.19 L162.14 192.08 L162.21 191.97 L162.28 191.86 L162.35 191.75 L162.43 191.63 L162.50 191.52 L162.57 191.41 L162.64 191.30 L162.71 191.19 L162.79 191.08 L162.86 190.97 L162.93 190.86 L163.00 190.75 L163.08 190.64 L163.15 190.53 L163.22 190.42 L163.29 190.31 L163.36 190.20 L163.44 190.09 L163.51 189.98 L163.58 189.87 L163.65 189.76 M167.92 183.24 L167.99 183.13 L168.06 183.01 L168.14 182.90 L168.21 182.79 L168.28 182.68 L168.35 182.57 L168.43 182.46 L168.50 182.35 L168.57 182.24 L168.64 182.13 L168.71 182.02 L168.79 181.91 L168.86 181.80 L168.93 181.69 L169.00 181.58 L169.08 181.47 L169.15 181.36 L169.22 181.25 L169.29 181.13 L169.37 181.02 L169.44 180.91 L169.51 180.80 L169.58 180.69 L169.65 180.58 L169.73 180.47 L169.80 180.36 L169.87 180.25 L169.94 180.14 L170.02 180.03 L170.09 179.92 L170.16 179.81 L170.23 179.70 L170.30 179.59 L170.38 179.48 L170.45 179.37 L170.52 179.26 L170.59 179.15 L170.67 179.03 L170.74 178.92 L170.81 178.81 L170.88 178.70 L170.96 178.59 L171.03 178.48 L171.10 178.37 L171.17 178.26 L171.24 178.15 L171.32 178.04 L171.39 177.93 L171.46 177.82 L171.53 177.71 L171.61 177.60 L171.68 177.49 L171.75 177.38 M175.15 172.19 L175.22 172.08 L175.29 171.97 L175.37 171.86 L175.44 171.75 L175.51 171.64 L175.58 171.53 L175.65 171.42 L175.73 171.31 L175.80 171.20 L175.87 171.09 L175.94 170.98 L176.02 170.87 L176.09 170.76 L176.16 170.65 L176.23 170.54 L176.31 170.43 L176.38 170.32 L176.45 170.21 L176.52 170.10 L176.59 169.99 L176.67 169.88 L176.74 169.77 L176.81 169.66 L176.88 169.55 L176.96 169.44 L177.03 169.33 L177.10 169.23 L177.17 169.12 L177.24 169.01 L177.32 168.90 L177.39 168.79 L177.46 168.68 L177.53 168.57 L177.61 168.46 L177.68 168.35 L177.75 168.24 L177.82 168.13 L177.90 168.02 L177.97 167.91 L178.04 167.80 L178.11 167.69 L178.18 167.58 L178.26 167.47 L178.33 167.36 L178.40 167.25 L178.47 167.14 L178.55 167.03 L178.62 166.92 L178.69 166.81 L178.76 166.70 L178.84 166.59 L178.91 166.48 L178.98 166.37 L179.05 166.26 M183.53 159.50 L183.61 159.40 L183.68 159.29 L183.75 159.18 L183.82 159.07 L183.90 158.96 L183.97 158.85 L184.04 158.75 L184.11 158.64 L184.18 158.53 L184.26 158.42 L184.33 158.31 L184.40 158.20 L184.47 158.10 L184.55 157.99 L184.62 157.88 L184.69 157.77 L184.76 157.66 L184.84 157.55 L184.91 157.45 L184.98 157.34 L185.05 157.23 L185.12 157.12 L185.20 157.01 L185.27 156.91 L185.34 156.80 L185.41 156.69 L185.49 156.58 L185.56 156.47 L185.63 156.37 L185.70 156.26 L185.78 156.15 L185.85 156.04 L185.92 155.93 L185.99 155.83 L186.06 155.72 L186.14 155.61 L186.21 155.50 L186.28 155.39 L186.35 155.29 L186.43 155.18 L186.50 155.07 L186.57 154.96 L186.64 154.86 L186.72 154.75 L186.79 154.64 L186.86 154.53 L186.93 154.43 L187.00 154.32 L187.08 154.21 L187.15 154.10 L187.22 154.00 L187.29 153.89 L187.37 153.78 L187.44 153.67 M191.20 148.12 L191.27 148.01 L191.34 147.90 L191.41 147.80 L191.49 147.69 L191.56 147.59 L191.63 147.48 L191.70 147.37 L191.78 147.27 L191.85 147.16 L191.92 147.06 L191.99 146.95 L192.06 146.84 L192.14 146.74 L192.21 146.63 L192.28 146.53 L192.35 146.42 L192.43 146.31 L192.50 146.21 L192.57 146.10 L192.64 146.00 L192.72 145.89 L192.79 145.79 L192.86 145.68 L192.93 145.58 L193.00 145.47 L193.08 145.36 L193.15 145.26 L193.22 145.15 L193.29 145.05 L193.37 144.94 L193.44 144.84 L193.51 144.73 L193.58 144.63 L193.65 144.52 L193.73 144.42 L193.80 144.31 L193.87 144.20 L193.94 144.10 L194.02 143.99 L194.09 143.89 L194.16 143.78 L194.23 143.68 L194.31 143.57 L194.38 143.47 L194.45 143.36 L194.52 143.26 L194.59 143.15 L194.67 143.05 L194.74 142.94 L194.81 142.84 L194.88 142.73 L194.96 142.63 L195.03 142.52 L195.10 142.42 L195.17 142.31 M200.31 134.95 L200.38 134.85 L200.45 134.75 L200.52 134.65 L200.59 134.54 L200.67 134.44 L200.74 134.34 L200.81 134.24 L200.88 134.13 L200.96 134.03 L201.03 133.93 L201.10 133.83 L201.17 133.73 L201.25 133.62 L201.32 133.52 L201.39 133.42 L201.46 133.32 L201.53 133.21 L201.61 133.11 L201.68 133.01 L201.75 132.91 L201.82 132.81 L201.90 132.70 L201.97 132.60 L202.04 132.50 L202.11 132.40 L202.19 132.30 L202.26 132.20 L202.33 132.09 L202.40 131.99 L202.47 131.89 L202.55 131.79 L202.62 131.69 L202.69 131.59 L202.76 131.49 L202.84 131.38 L202.91 131.28 L202.98 131.18 L203.05 131.08 L203.13 130.98 L203.20 130.88 L203.27 130.78 L203.34 130.67 L203.41 130.57 L203.49 130.47 L203.56 130.37 L203.63 130.27 L203.70 130.17 L203.78 130.07 L203.85 129.97 L203.92 129.87 L203.99 129.77 L204.06 129.67 L204.14 129.56 L204.21 129.46 L204.28 129.36 L204.35 129.26 L204.43 129.16 M207.46 124.97 L207.53 124.87 L207.61 124.77 L207.68 124.67 L207.75 124.57 L207.82 124.47 L207.90 124.37 L207.97 124.27 L208.04 124.18 L208.11 124.08 L208.19 123.98 L208.26 123.88 L208.33 123.78 L208.40 123.68 L208.47 123.58 L208.55 123.49 L208.62 123.39 L208.69 123.29 L208.76 123.19 L208.84 123.09 L208.91 122.99 L208.98 122.89 L209.05 122.80 L209.13 122.70 L209.20 122.60 L209.27 122.50 L209.34 122.40 L209.41 122.31 L209.49 122.21 L209.56 122.11 L209.63 122.01 L209.70 121.91 L209.78 121.82 L209.85 121.72 L209.92 121.62 L209.99 121.52 L210.07 121.42 L210.14 121.33 L210.21 121.23 L210.28 121.13 L210.35 121.03 L210.43 120.94 L210.50 120.84 L210.57 120.74 L210.64 120.64 L210.72 120.55 L210.79 120.45 L210.86 120.35 L210.93 120.26 L211.00 120.16 L211.08 120.06 L211.15 119.96 L211.22 119.87 L211.29 119.77 L211.37 119.67 L211.44 119.58 L211.51 119.48 L211.58 119.38 M215.92 113.64 L215.99 113.55 L216.07 113.46 L216.14 113.36 L216.21 113.27 L216.28 113.17 L216.35 113.08 L216.43 112.98 L216.50 112.89 L216.57 112.80 L216.64 112.70 L216.72 112.61 L216.79 112.51 L216.86 112.42 L216.93 112.33 L217.01 112.23 L217.08 112.14 L217.15 112.05 L217.22 111.95 L217.29 111.86 L217.37 111.77 L217.44 111.67 L217.51 111.58 L217.58 111.49 L217.66 111.39 L217.73 111.30 L217.80 111.21 L217.87 111.11 L217.95 111.02 L218.02 110.93 L218.09 110.83 L218.16 110.74 L218.23 110.65 L218.31 110.55 L218.38 110.46 L218.45 110.37 L218.52 110.28 L218.60 110.18 L218.67 110.09 L218.74 110.00 L218.81 109.90 L218.88 109.81 L218.96 109.72 L219.03 109.63 L219.10 109.53 L219.17 109.44 L219.25 109.35 L219.32 109.26 L219.39 109.16 L219.46 109.07 L219.54 108.98 L219.61 108.89 L219.68 108.80 L219.75 108.70 L219.82 108.61 L219.90 108.52 L219.97 108.43 L220.04 108.34 L220.11 108.24 L220.19 108.15 M224.38 102.91 L224.45 102.82 L224.52 102.73 L224.60 102.64 L224.67 102.55 L224.74 102.46 L224.81 102.37 L224.88 102.29 L224.96 102.20 L225.03 102.11 L225.10 102.02 L225.17 101.93 L225.25 101.84 L225.32 101.75 L225.39 101.67 L225.46 101.58 L225.54 101.49 L225.61 101.40 L225.68 101.31 L225.75 101.22 L225.82 101.14 L225.90 101.05 L225.97 100.96 L226.04 100.87 L226.11 100.78 L226.19 100.70 L226.26 100.61 L226.33 100.52 L226.40 100.43 L226.48 100.34 L226.55 100.26 L226.62 100.17 L226.69 100.08 L226.76 99.99 L226.84 99.91 L226.91 99.82 L226.98 99.73 L227.05 99.64 L227.13 99.56 L227.20 99.47 L227.27 99.38 L227.34 99.30 L227.42 99.21 L227.49 99.12 L227.56 99.04 L227.63 98.95 L227.70 98.86 L227.78 98.77 L227.85 98.69 L227.92 98.60 L227.99 98.51 L228.07 98.43 L228.14 98.34 L228.21 98.25 L228.28 98.17 L228.35 98.08 L228.43 98.00 L228.50 97.91 L228.57 97.82 L228.64 97.74 L228.72 97.65 L228.79 97.56 M233.49 92.07 L233.56 91.99 L233.63 91.91 L233.70 91.83 L233.78 91.74 L233.85 91.66 L233.92 91.58 L233.99 91.49 L234.07 91.41 L234.14 91.33 L234.21 91.25 L234.28 91.17 L234.36 91.08 L234.43 91.00 L234.50 90.92 L234.57 90.84 L234.64 90.76 L234.72 90.67 L234.79 90.59 L234.86 90.51 L234.93 90.43 L235.01 90.35 L235.08 90.26 L235.15 90.18 L235.22 90.10 L235.30 90.02 L235.37 89.94 L235.44 89.86 L235.51 89.78 L235.58 89.69 L235.66 89.61 L235.73 89.53 L235.80 89.45 L235.87 89.37 L235.95 89.29 L236.02 89.21 L236.09 89.13 L236.16 89.04 L236.23 88.96 L236.31 88.88 L236.38 88.80 L236.45 88.72 L236.52 88.64 L236.60 88.56 L236.67 88.48 L236.74 88.40 L236.81 88.32 L236.89 88.24 L236.96 88.16 L237.03 88.08 L237.10 88.00 L237.17 87.92 L237.25 87.84 L237.32 87.76 L237.39 87.68 L237.46 87.60 L237.54 87.52 L237.61 87.44 L237.68 87.36 L237.75 87.28 L237.83 87.20 L237.90 87.12 L237.97 87.04 L238.04 86.96 L238.11 86.88 M242.02 82.67 L242.09 82.59 L242.16 82.52 L242.23 82.44 L242.31 82.36 L242.38 82.29 L242.45 82.21 L242.52 82.14 L242.60 82.06 L242.67 81.98 L242.74 81.91 L242.81 81.83 L242.89 81.76 L242.96 81.68 L243.03 81.60 L243.10 81.53 L243.17 81.45 L243.25 81.38 L243.32 81.30 L243.39 81.23 L243.46 81.15 L243.54 81.08 L243.61 81.00 L243.68 80.92 L243.75 80.85 L243.83 80.77 L243.90 80.70 L243.97 80.62 L244.04 80.55 L244.11 80.47 L244.19 80.40 L244.26 80.32 L244.33 80.25 L244.40 80.18 L244.48 80.10 L244.55 80.03 L244.62 79.95 L244.69 79.88 L244.77 79.80 L244.84 79.73 L244.91 79.65 L244.98 79.58 L245.05 79.51 L245.13 79.43 L245.20 79.36 L245.27 79.28 L245.34 79.21 L245.42 79.14 L245.49 79.06 L245.56 78.99 L245.63 78.91 L245.70 78.84 L245.78 78.77 L245.85 78.69 L245.92 78.62 L245.99 78.55 L246.07 78.47 L246.14 78.40 L246.21 78.33 L246.28 78.25 L246.36 78.18 L246.43 78.11 L246.50 78.03 L246.57 77.96 L246.64 77.89 L246.72 77.81 L246.79 77.74 L246.86 77.67 L246.93 77.60 M251.71 72.92 L251.78 72.86 L251.85 72.79 L251.92 72.72 L251.99 72.65 L252.07 72.58 L252.14 72.51 L252.21 72.44 L252.28 72.38 L252.36 72.31 L252.43 72.24 L252.50 72.17 L252.57 72.10 L252.64 72.03 L252.72 71.97 L252.79 71.90 L252.86 71.83 L252.93 71.76 L253.01 71.69 L253.08 71.63 L253.15 71.56 L253.22 71.49 L253.30 71.42 L253.37 71.36 L253.44 71.29 L253.51 71.22 L253.58 71.15 L253.66 71.09 L253.73 71.02 L253.80 70.95 L253.87 70.88 L253.95 70.82 L254.02 70.75 L254.09 70.68 L254.16 70.62 L254.24 70.55 L254.31 70.48 L254.38 70.42 L254.45 70.35 L254.52 70.28 L254.60 70.22 L254.67 70.15 L254.74 70.08 L254.81 70.02 L254.89 69.95 L254.96 69.88 L255.03 69.82 L255.10 69.75 L255.18 69.69 L255.25 69.62 L255.32 69.55 L255.39 69.49 L255.46 69.42 L255.54 69.36 L255.61 69.29 L255.68 69.22 L255.75 69.16 L255.83 69.09 L255.90 69.03 L255.97 68.96 L256.04 68.90 L256.12 68.83 L256.19 68.77 L256.26 68.70 L256.33 68.64 L256.40 68.57 L256.48 68.51 L256.55 68.44 L256.62 68.38 L256.69 68.31 L256.77 68.25 L256.84 68.18 M260.74 64.78 L260.81 64.72 L260.89 64.66 L260.96 64.59 L261.03 64.53 L261.10 64.47 L261.18 64.41 L261.25 64.35 L261.32 64.29 L261.39 64.23 L261.46 64.17 L261.54 64.11 L261.61 64.05 L261.68 63.99 L261.75 63.92 L261.83 63.86 L261.90 63.80 L261.97 63.74 L262.04 63.68 L262.12 63.62 L262.19 63.56 L262.26 63.50 L262.33 63.44 L262.40 63.38 L262.48 63.32 L262.55 63.26 L262.62 63.20 L262.69 63.14 L262.77 63.08 L262.84 63.02 L262.91 62.96 L262.98 62.90 L263.06 62.84 L263.13 62.79 L263.20 62.73 L263.27 62.67 L263.34 62.61 L263.42 62.55 L263.49 62.49 L263.56 62.43 L263.63 62.37 L263.71 62.31 L263.78 62.25 L263.85 62.19 L263.92 62.14 L263.99 62.08 L264.07 62.02 L264.14 61.96 L264.21 61.90 L264.28 61.84 L264.36 61.78 L264.43 61.73 L264.50 61.67 L264.57 61.61 L264.65 61.55 L264.72 61.49 L264.79 61.44 L264.86 61.38 L264.93 61.32 L265.01 61.26 L265.08 61.20 L265.15 61.15 L265.22 61.09 L265.30 61.03 L265.37 60.97 L265.44 60.92 L265.51 60.86 L265.59 60.80 L265.66 60.75 L265.73 60.69 L265.80 60.63 L265.87 60.57 L265.95 60.52 L266.02 60.46 L266.09 60.40 L266.16 60.35 M271.37 56.42 L271.44 56.37 L271.51 56.32 L271.59 56.27 L271.66 56.21 L271.73 56.16 L271.80 56.11 L271.87 56.06 L271.95 56.01 L272.02 55.95 L272.09 55.90 L272.16 55.85 L272.24 55.80 L272.31 55.75 L272.38 55.70 L272.45 55.65 L272.53 55.59 L272.60 55.54 L272.67 55.49 L272.74 55.44 L272.81 55.39 L272.89 55.34 L272.96 55.29 L273.03 55.24 L273.10 55.19 L273.18 55.14 L273.25 55.09 L273.32 55.04 L273.39 54.99 L273.47 54.93 L273.54 54.88 L273.61 54.83 L273.68 54.78 L273.75 54.73 L273.83 54.68 L273.90 54.63 L273.97 54.58 L274.04 54.53 L274.12 54.48 L274.19 54.43 L274.26 54.38 L274.33 54.33 L274.40 54.29 L274.48 54.24 L274.55 54.19 L274.62 54.14 L274.69 54.09 L274.77 54.04 L274.84 53.99 L274.91 53.94 L274.98 53.89 L275.06 53.84 L275.13 53.79 L275.20 53.74 L275.27 53.70 L275.34 53.65 L275.42 53.60 L275.49 53.55 L275.56 53.50 L275.63 53.45 L275.71 53.40 L275.78 53.36 L275.85 53.31 L275.92 53.26 L276.00 53.21 L276.07 53.16 L276.14 53.12 L276.21 53.07 L276.28 53.02 L276.36 52.97 L276.43 52.92 L276.50 52.88 L276.57 52.83 L276.65 52.78 L276.72 52.73 L276.79 52.69 L276.86 52.64 L276.93 52.59 L277.01 52.54 L277.08 52.50 L277.15 52.45 M281.63 49.66 L281.71 49.61 L281.78 49.57 L281.85 49.53 L281.92 49.48 L282.00 49.44 L282.07 49.40 L282.14 49.36 L282.21 49.31 L282.28 49.27 L282.36 49.23 L282.43 49.19 L282.50 49.14 L282.57 49.10 L282.65 49.06 L282.72 49.02 L282.79 48.98 L282.86 48.93 L282.94 48.89 L283.01 48.85 L283.08 48.81 L283.15 48.77 L283.22 48.72 L283.30 48.68 L283.37 48.64 L283.44 48.60 L283.51 48.56 L283.59 48.52 L283.66 48.48 L283.73 48.44 L283.80 48.39 L283.88 48.35 L283.95 48.31 L284.02 48.27 L284.09 48.23 L284.16 48.19 L284.24 48.15 L284.31 48.11 L284.38 48.07 L284.45 48.03 L284.53 47.99 L284.60 47.95 L284.67 47.91 L284.74 47.87 L284.81 47.83 L284.89 47.79 L284.96 47.75 L285.03 47.71 L285.10 47.67 L285.18 47.63 L285.25 47.59 L285.32 47.55 L285.39 47.51 L285.47 47.47 L285.54 47.43 L285.61 47.39 L285.68 47.35 L285.75 47.31 L285.83 47.27 L285.90 47.23 L285.97 47.19 L286.04 47.15 L286.12 47.11 L286.19 47.08 L286.26 47.04 L286.33 47.00 L286.41 46.96 L286.48 46.92 L286.55 46.88 L286.62 46.84 L286.69 46.80 L286.77 46.77 L286.84 46.73 L286.91 46.69 L286.98 46.65 L287.06 46.61 L287.13 46.58 L287.20 46.54 L287.27 46.50 L287.35 46.46 L287.42 46.42 L287.49 46.39 L287.56 46.35 L287.63 46.31 L287.71 46.27 L287.78 46.24 M293.63 43.43 L293.71 43.39 L293.78 43.36 L293.85 43.33 L293.92 43.30 L294.00 43.27 L294.07 43.23 L294.14 43.20 L294.21 43.17 L294.28 43.14 L294.36 43.11 L294.43 43.08 L294.50 43.05 L294.57 43.02 L294.65 42.98 L294.72 42.95 L294.79 42.92 L294.86 42.89 L294.94 42.86 L295.01 42.83 L295.08 42.80 L295.15 42.77 L295.22 42.74 L295.30 42.71 L295.37 42.68 L295.44 42.65 L295.51 42.62 L295.59 42.59 L295.66 42.56 L295.73 42.53 L295.80 42.50 L295.88 42.47 L295.95 42.44 L296.02 42.41 L296.09 42.38 L296.16 42.35 L296.24 42.32 L296.31 42.29 L296.38 42.26 L296.45 42.23 L296.53 42.20 L296.60 42.17 L296.67 42.14 L296.74 42.11 L296.82 42.08 L296.89 42.05 L296.96 42.03 L297.03 42.00 L297.10 41.97 L297.18 41.94 L297.25 41.91 L297.32 41.88 L297.39 41.85 L297.47 41.83 L297.54 41.80 L297.61 41.77 L297.68 41.74 L297.75 41.71 L297.83 41.68 L297.90 41.66 L297.97 41.63 L298.04 41.60 L298.12 41.57 L298.19 41.54 L298.26 41.52 L298.33 41.49 L298.41 41.46 L298.48 41.43 L298.55 41.41 L298.62 41.38 L298.69 41.35 L298.77 41.33 L298.84 41.30 L298.91 41.27 L298.98 41.24 L299.06 41.22 L299.13 41.19 L299.20 41.16 L299.27 41.14 L299.35 41.11 L299.42 41.08 L299.49 41.06 L299.56 41.03 L299.63 41.00 L299.71 40.98 L299.78 40.95 L299.85 40.93 L299.92 40.90 L300.00 40.87 L300.07 40.85 L300.14 40.82 M305.56 39.07 L305.63 39.05 L305.71 39.03 L305.78 39.01 L305.85 38.99 L305.92 38.97 L306.00 38.95 L306.07 38.93 L306.14 38.91 L306.21 38.89 L306.29 38.87 L306.36 38.85 L306.43 38.83 L306.50 38.81 L306.57 38.79 L306.65 38.77 L306.72 38.75 L306.79 38.73 L306.86 38.71 L306.94 38.69 L307.01 38.67 L307.08 38.65 L307.15 38.63 L307.23 38.61 L307.30 38.59 L307.37 38.57 L307.44 38.56 L307.51 38.54 L307.59 38.52 L307.66 38.50 L307.73 38.48 L307.80 38.46 L307.88 38.44 L307.95 38.42 L308.02 38.41 L308.09 38.39 L308.17 38.37 L308.24 38.35 L308.31 38.33 L308.38 38.31 L308.45 38.30 L308.53 38.28 L308.60 38.26 L308.67 38.24 L308.74 38.23 L308.82 38.21 L308.89 38.19 L308.96 38.17 L309.03 38.16 L309.10 38.14 L309.18 38.12 L309.25 38.10 L309.32 38.09 L309.39 38.07 L309.47 38.05 L309.54 38.03 L309.61 38.02 L309.68 38.00 L309.76 37.98 L309.83 37.97 L309.90 37.95 L309.97 37.93 L310.04 37.92 L310.12 37.90 L310.19 37.88 L310.26 37.87 L310.33 37.85 L310.41 37.84 L310.48 37.82 L310.55 37.80 L310.62 37.79 L310.70 37.77 L310.77 37.76 L310.84 37.74 L310.91 37.72 L310.98 37.71 L311.06 37.69 L311.13 37.68 L311.20 37.66 L311.27 37.65 L311.35 37.63 L311.42 37.62 L311.49 37.60 L311.56 37.59 L311.63 37.57 L311.71 37.56 L311.78 37.54 L311.85 37.53 L311.92 37.51 L312.00 37.50 L312.07 37.48 L312.14 37.47 L312.21 37.45 L312.29 37.44 L312.36 37.43 M318.86 36.42 L318.94 36.41 L319.01 36.40 L319.08 36.40 L319.15 36.39 L319.23 36.38 L319.30 36.37 L319.37 36.37 L319.44 36.36 L319.51 36.35 L319.59 36.34 L319.66 36.34 L319.73 36.33 L319.80 36.32 L319.88 36.31 L319.95 36.31 L320.02 36.30 L320.09 36.29 L320.17 36.29 L320.24 36.28 L320.31 36.27 L320.38 36.27 L320.45 36.26 L320.53 36.25 L320.60 36.25 L320.67 36.24 L320.74 36.23 L320.82 36.23 L320.89 36.22 L320.96 36.22 L321.03 36.21 L321.11 36.20 L321.18 36.20 L321.25 36.19 L321.32 36.19 L321.39 36.18 L321.47 36.18 L321.54 36.17 L321.61 36.16 L321.68 36.16 L321.76 36.15 L321.83 36.15 L321.90 36.14 L321.97 36.14 L322.04 36.13 L322.12 36.13 L322.19 36.12 L322.26 36.12 L322.33 36.11 L322.41 36.11 L322.48 36.10 L322.55 36.10 L322.62 36.10 L322.70 36.09 L322.77 36.09 L322.84 36.08 L322.91 36.08 L322.98 36.07 L323.06 36.07 L323.13 36.07 L323.20 36.06 L323.27 36.06 L323.35 36.05 L323.42 36.05 L323.49 36.05 L323.56 36.04 L323.64 36.04 L323.71 36.04 L323.78 36.03 L323.85 36.03 L323.92 36.03 L324.00 36.02 L324.07 36.02 L324.14 36.02 L324.21 36.01 L324.29 36.01 L324.36 36.01 L324.43 36.01 L324.50 36.00 L324.58 36.00 L324.65 36.00 L324.72 36.00 L324.79 35.99 L324.86 35.99 L324.94 35.99 L325.01 35.99 L325.08 35.98 L325.15 35.98 L325.23 35.98 L325.30 35.98 L325.37 35.98 L325.44 35.97 L325.52 35.97 L325.59 35.97 L325.66 35.97 L325.73 35.97 L325.80 35.97 L325.88 35.97 M332.53 36.14 L332.60 36.14 L332.67 36.15 L332.74 36.15 L332.82 36.16 L332.89 36.16 L332.96 36.17 L333.03 36.18 L333.11 36.18 L333.18 36.19 L333.25 36.19 L333.32 36.20 L333.39 36.20 L333.47 36.21 L333.54 36.22 L333.61 36.22 L333.68 36.23 L333.76 36.23 L333.83 36.24 L333.90 36.25 L333.97 36.25 L334.05 36.26 L334.12 36.27 L334.19 36.27 L334.26 36.28 L334.33 36.29 L334.41 36.29 L334.48 36.30 L334.55 36.31 L334.62 36.31 L334.70 36.32 L334.77 36.33 L334.84 36.34 L334.91 36.34 L334.99 36.35 L335.06 36.36 L335.13 36.37 L335.20 36.37 L335.27 36.38 L335.35 36.39 L335.42 36.40 L335.49 36.40 L335.56 36.41 L335.64 36.42 L335.71 36.43 L335.78 36.44 L335.85 36.44 L335.93 36.45 L336.00 36.46 L336.07 36.47 L336.14 36.48 L336.21 36.49 L336.29 36.50 L336.36 36.50 L336.43 36.51 L336.50 36.52 L336.58 36.53 L336.65 36.54 L336.72 36.55 L336.79 36.56 L336.86 36.57 L336.94 36.58 L337.01 36.59 L337.08 36.59 L337.15 36.60 L337.23 36.61 L337.30 36.62 L337.37 36.63 L337.44 36.64 L337.52 36.65 L337.59 36.66 L337.66 36.67 L337.73 36.68 L337.80 36.69 L337.88 36.70 L337.95 36.71 L338.02 36.72 L338.09 36.73 L338.17 36.74 L338.24 36.75 L338.31 36.77 L338.38 36.78 L338.46 36.79 L338.53 36.80 L338.60 36.81 L338.67 36.82 L338.74 36.83 L338.82 36.84 L338.89 36.85 L338.96 36.86 L339.03 36.88 L339.11 36.89 L339.18 36.90 L339.25 36.91 L339.32 36.92 L339.39 36.93 L339.47 36.94 L339.54 36.96 M346.55 38.42 L346.62 38.44 L346.70 38.46 L346.77 38.48 L346.84 38.50 L346.91 38.52 L346.99 38.54 L347.06 38.56 L347.13 38.57 L347.20 38.59 L347.27 38.61 L347.35 38.63 L347.42 38.65 L347.49 38.67 L347.56 38.69 L347.64 38.71 L347.71 38.73 L347.78 38.75 L347.85 38.77 L347.93 38.79 L348.00 38.81 L348.07 38.83 L348.14 38.85 L348.21 38.87 L348.29 38.89 L348.36 38.91 L348.43 38.93 L348.50 38.95 L348.58 38.97 L348.65 38.99 L348.72 39.01 L348.79 39.03 L348.87 39.05 L348.94 39.07 L349.01 39.09 L349.08 39.11 L349.15 39.13 L349.23 39.16 L349.30 39.18 L349.37 39.20 L349.44 39.22 L349.52 39.24 L349.59 39.26 L349.66 39.28 L349.73 39.30 L349.81 39.33 L349.88 39.35 L349.95 39.37 L350.02 39.39 L350.09 39.41 L350.17 39.43 L350.24 39.46 L350.31 39.48 L350.38 39.50 L350.46 39.52 L350.53 39.55 L350.60 39.57 L350.67 39.59 L350.74 39.61 L350.82 39.63 L350.89 39.66 L350.96 39.68 L351.03 39.70 L351.11 39.73 L351.18 39.75 L351.25 39.77 L351.32 39.79 L351.40 39.82 L351.47 39.84 L351.54 39.86 L351.61 39.89 L351.68 39.91 L351.76 39.93 L351.83 39.96 L351.90 39.98 L351.97 40.00 L352.05 40.03 L352.12 40.05 L352.19 40.08 L352.26 40.10 L352.34 40.12 L352.41 40.15 L352.48 40.17 L352.55 40.20 L352.62 40.22 L352.70 40.24 L352.77 40.27 L352.84 40.29 L352.91 40.32 L352.99 40.34 L353.06 40.37 L353.13 40.39 L353.20 40.42 L353.27 40.44 M358.12 42.26 L358.19 42.29 L358.26 42.32 L358.34 42.35 L358.41 42.38 L358.48 42.41 L358.55 42.44 L358.62 42.47 L358.70 42.50 L358.77 42.53 L358.84 42.56 L358.91 42.59 L358.99 42.62 L359.06 42.65 L359.13 42.68 L359.20 42.71 L359.28 42.74 L359.35 42.77 L359.42 42.80 L359.49 42.83 L359.56 42.86 L359.64 42.89 L359.71 42.92 L359.78 42.95 L359.85 42.98 L359.93 43.02 L360.00 43.05 L360.07 43.08 L360.14 43.11 L360.22 43.14 L360.29 43.17 L360.36 43.20 L360.43 43.23 L360.50 43.27 L360.58 43.30 L360.65 43.33 L360.72 43.36 L360.79 43.39 L360.87 43.43 L360.94 43.46 L361.01 43.49 L361.08 43.52 L361.15 43.55 L361.23 43.59 L361.30 43.62 L361.37 43.65 L361.44 43.68 L361.52 43.72 L361.59 43.75 L361.66 43.78 L361.73 43.81 L361.81 43.85 L361.88 43.88 L361.95 43.91 L362.02 43.95 L362.09 43.98 L362.17 44.01 L362.24 44.05 L362.31 44.08 L362.38 44.11 L362.46 44.15 L362.53 44.18 L362.60 44.21 L362.67 44.25 L362.75 44.28 L362.82 44.31 L362.89 44.35 L362.96 44.38 L363.03 44.42 L363.11 44.45 L363.18 44.48 L363.25 44.52 L363.32 44.55 L363.40 44.59 L363.47 44.62 L363.54 44.65 L363.61 44.69 L363.69 44.72 L363.76 44.76 L363.83 44.79 L363.90 44.83 L363.97 44.86 L364.05 44.90 L364.12 44.93 L364.19 44.97 L364.26 45.00 L364.34 45.04 L364.41 45.07 L364.48 45.11 M369.54 47.75 L369.61 47.79 L369.69 47.83 L369.76 47.87 L369.83 47.91 L369.90 47.95 L369.97 47.99 L370.05 48.03 L370.12 48.07 L370.19 48.11 L370.26 48.15 L370.34 48.19 L370.41 48.23 L370.48 48.27 L370.55 48.31 L370.62 48.35 L370.70 48.39 L370.77 48.44 L370.84 48.48 L370.91 48.52 L370.99 48.56 L371.06 48.60 L371.13 48.64 L371.20 48.68 L371.28 48.72 L371.35 48.77 L371.42 48.81 L371.49 48.85 L371.56 48.89 L371.64 48.93 L371.71 48.98 L371.78 49.02 L371.85 49.06 L371.93 49.10 L372.00 49.14 L372.07 49.19 L372.14 49.23 L372.22 49.27 L372.29 49.31 L372.36 49.36 L372.43 49.40 L372.50 49.44 L372.58 49.48 L372.65 49.53 L372.72 49.57 L372.79 49.61 L372.87 49.66 L372.94 49.70 L373.01 49.74 L373.08 49.79 L373.16 49.83 L373.23 49.87 L373.30 49.92 L373.37 49.96 L373.44 50.00 L373.52 50.05 L373.59 50.09 L373.66 50.13 L373.73 50.18 L373.81 50.22 L373.88 50.26 L373.95 50.31 L374.02 50.35 L374.09 50.40 L374.17 50.44 L374.24 50.49 L374.31 50.53 L374.38 50.57 L374.46 50.62 L374.53 50.66 L374.60 50.71 L374.67 50.75 L374.75 50.80 L374.82 50.84 L374.89 50.89 L374.96 50.93 L375.03 50.98 L375.11 51.02 L375.18 51.07 L375.25 51.11 L375.32 51.16 L375.40 51.20 L375.47 51.25 L375.54 51.29 M380.46 54.53 L380.53 54.58 L380.60 54.63 L380.67 54.68 L380.75 54.73 L380.82 54.78 L380.89 54.83 L380.96 54.88 L381.03 54.93 L381.11 54.99 L381.18 55.04 L381.25 55.09 L381.32 55.14 L381.40 55.19 L381.47 55.24 L381.54 55.29 L381.61 55.34 L381.69 55.39 L381.76 55.44 L381.83 55.49 L381.90 55.54 L381.97 55.59 L382.05 55.65 L382.12 55.70 L382.19 55.75 L382.26 55.80 L382.34 55.85 L382.41 55.90 L382.48 55.95 L382.55 56.01 L382.63 56.06 L382.70 56.11 L382.77 56.16 L382.84 56.21 L382.91 56.27 L382.99 56.32 L383.06 56.37 L383.13 56.42 L383.20 56.47 L383.28 56.53 L383.35 56.58 L383.42 56.63 L383.49 56.68 L383.57 56.74 L383.64 56.79 L383.71 56.84 L383.78 56.89 L383.85 56.95 L383.93 57.00 L384.00 57.05 L384.07 57.11 L384.14 57.16 L384.22 57.21 L384.29 57.27 L384.36 57.32 L384.43 57.37 L384.50 57.43 L384.58 57.48 L384.65 57.53 L384.72 57.59 L384.79 57.64 L384.87 57.69 L384.94 57.75 L385.01 57.80 L385.08 57.86 L385.16 57.91 L385.23 57.96 L385.30 58.02 L385.37 58.07 L385.44 58.13 L385.52 58.18 L385.59 58.23 L385.66 58.29 L385.73 58.34 L385.81 58.40 L385.88 58.45 L385.95 58.51 L386.02 58.56 L386.10 58.62 L386.17 58.67 M390.65 62.19 L390.72 62.25 L390.79 62.31 L390.87 62.37 L390.94 62.43 L391.01 62.49 L391.08 62.55 L391.16 62.61 L391.23 62.67 L391.30 62.73 L391.37 62.79 L391.44 62.84 L391.52 62.90 L391.59 62.96 L391.66 63.02 L391.73 63.08 L391.81 63.14 L391.88 63.20 L391.95 63.26 L392.02 63.32 L392.10 63.38 L392.17 63.44 L392.24 63.50 L392.31 63.56 L392.38 63.62 L392.46 63.68 L392.53 63.74 L392.60 63.80 L392.67 63.86 L392.75 63.92 L392.82 63.99 L392.89 64.05 L392.96 64.11 L393.04 64.17 L393.11 64.23 L393.18 64.29 L393.25 64.35 L393.32 64.41 L393.40 64.47 L393.47 64.53 L393.54 64.59 L393.61 64.66 L393.69 64.72 L393.76 64.78 L393.83 64.84 L393.90 64.90 L393.98 64.96 L394.05 65.02 L394.12 65.09 L394.19 65.15 L394.26 65.21 L394.34 65.27 L394.41 65.33 L394.48 65.40 L394.55 65.46 L394.63 65.52 L394.70 65.58 L394.77 65.64 L394.84 65.71 L394.92 65.77 L394.99 65.83 L395.06 65.89 L395.13 65.96 L395.20 66.02 L395.28 66.08 L395.35 66.14 L395.42 66.21 L395.49 66.27 L395.57 66.33 L395.64 66.40 L395.71 66.46 L395.78 66.52 L395.85 66.58 L395.93 66.65 L396.00 66.71 M400.26 70.55 L400.34 70.62 L400.41 70.68 L400.48 70.75 L400.55 70.82 L400.63 70.88 L400.70 70.95 L400.77 71.02 L400.84 71.09 L400.92 71.15 L400.99 71.22 L401.06 71.29 L401.13 71.36 L401.20 71.42 L401.28 71.49 L401.35 71.56 L401.42 71.63 L401.49 71.69 L401.57 71.76 L401.64 71.83 L401.71 71.90 L401.78 71.97 L401.86 72.03 L401.93 72.10 L402.00 72.17 L402.07 72.24 L402.14 72.31 L402.22 72.38 L402.29 72.44 L402.36 72.51 L402.43 72.58 L402.51 72.65 L402.58 72.72 L402.65 72.79 L402.72 72.86 L402.79 72.92 L402.87 72.99 L402.94 73.06 L403.01 73.13 L403.08 73.20 L403.16 73.27 L403.23 73.34 L403.30 73.41 L403.37 73.48 L403.45 73.55 L403.52 73.62 L403.59 73.69 L403.66 73.76 L403.73 73.82 L403.81 73.89 L403.88 73.96 L403.95 74.03 L404.02 74.10 L404.10 74.17 L404.17 74.24 L404.24 74.31 L404.31 74.38 L404.39 74.45 L404.46 74.52 L404.53 74.59 L404.60 74.66 L404.67 74.73 L404.75 74.81 L404.82 74.88 L404.89 74.95 L404.96 75.02 L405.04 75.09 L405.11 75.16 L405.18 75.23 L405.25 75.30 L405.32 75.37 M409.81 79.88 L409.88 79.95 L409.95 80.03 L410.02 80.10 L410.10 80.18 L410.17 80.25 L410.24 80.32 L410.31 80.40 L410.39 80.47 L410.46 80.55 L410.53 80.62 L410.60 80.70 L410.67 80.77 L410.75 80.85 L410.82 80.92 L410.89 81.00 L410.96 81.08 L411.04 81.15 L411.11 81.23 L411.18 81.30 L411.25 81.38 L411.33 81.45 L411.40 81.53 L411.47 81.60 L411.54 81.68 L411.61 81.76 L411.69 81.83 L411.76 81.91 L411.83 81.98 L411.90 82.06 L411.98 82.14 L412.05 82.21 L412.12 82.29 L412.19 82.36 L412.27 82.44 L412.34 82.52 L412.41 82.59 L412.48 82.67 L412.55 82.75 L412.63 82.82 L412.70 82.90 L412.77 82.98 L412.84 83.05 L412.92 83.13 L412.99 83.21 L413.06 83.28 L413.13 83.36 L413.20 83.44 L413.28 83.51 L413.35 83.59 L413.42 83.67 L413.49 83.75 L413.57 83.82 L413.64 83.90 L413.71 83.98 L413.78 84.06 L413.86 84.13 L413.93 84.21 L414.00 84.29 L414.07 84.37 L414.14 84.44 L414.22 84.52 L414.29 84.60 L414.36 84.68 L414.43 84.76 L414.51 84.83 L414.58 84.91 L414.65 84.99 M418.92 89.69 L418.99 89.78 L419.06 89.86 L419.13 89.94 L419.20 90.02 L419.28 90.10 L419.35 90.18 L419.42 90.26 L419.49 90.35 L419.57 90.43 L419.64 90.51 L419.71 90.59 L419.78 90.67 L419.86 90.76 L419.93 90.84 L420.00 90.92 L420.07 91.00 L420.14 91.08 L420.22 91.17 L420.29 91.25 L420.36 91.33 L420.43 91.41 L420.51 91.49 L420.58 91.58 L420.65 91.66 L420.72 91.74 L420.80 91.83 L420.87 91.91 L420.94 91.99 L421.01 92.07 L421.08 92.16 L421.16 92.24 L421.23 92.32 L421.30 92.41 L421.37 92.49 L421.45 92.57 L421.52 92.65 L421.59 92.74 L421.66 92.82 L421.74 92.90 L421.81 92.99 L421.88 93.07 L421.95 93.15 L422.02 93.24 L422.10 93.32 L422.17 93.41 L422.24 93.49 L422.31 93.57 L422.39 93.66 L422.46 93.74 L422.53 93.82 L422.60 93.91 L422.68 93.99 L422.75 94.08 L422.82 94.16 L422.89 94.24 L422.96 94.33 L423.04 94.41 L423.11 94.50 L423.18 94.58 L423.25 94.67 L423.33 94.75 L423.40 94.83 L423.47 94.92 L423.54 95.00 M427.81 100.08 L427.88 100.17 L427.95 100.26 L428.02 100.34 L428.10 100.43 L428.17 100.52 L428.24 100.61 L428.31 100.70 L428.39 100.78 L428.46 100.87 L428.53 100.96 L428.60 101.05 L428.68 101.14 L428.75 101.22 L428.82 101.31 L428.89 101.40 L428.96 101.49 L429.04 101.58 L429.11 101.67 L429.18 101.75 L429.25 101.84 L429.33 101.93 L429.40 102.02 L429.47 102.11 L429.54 102.20 L429.62 102.29 L429.69 102.37 L429.76 102.46 L429.83 102.55 L429.90 102.64 L429.98 102.73 L430.05 102.82 L430.12 102.91 L430.19 103.00 L430.27 103.09 L430.34 103.18 L430.41 103.26 L430.48 103.35 L430.55 103.44 L430.63 103.53 L430.70 103.62 L430.77 103.71 L430.84 103.80 L430.92 103.89 L430.99 103.98 L431.06 104.07 L431.13 104.16 L431.21 104.25 L431.28 104.34 L431.35 104.43 L431.42 104.52 L431.49 104.61 L431.57 104.70 L431.64 104.79 L431.71 104.88 L431.78 104.97 L431.86 105.06 L431.93 105.15 L432.00 105.24 L432.07 105.33 L432.15 105.42 L432.22 105.51 M435.69 109.90 L435.76 110.00 L435.83 110.09 L435.90 110.18 L435.98 110.28 L436.05 110.37 L436.12 110.46 L436.19 110.55 L436.27 110.65 L436.34 110.74 L436.41 110.83 L436.48 110.93 L436.55 111.02 L436.63 111.11 L436.70 111.21 L436.77 111.30 L436.84 111.39 L436.92 111.49 L436.99 111.58 L437.06 111.67 L437.13 111.77 L437.21 111.86 L437.28 111.95 L437.35 112.05 L437.42 112.14 L437.49 112.23 L437.57 112.33 L437.64 112.42 L437.71 112.51 L437.78 112.61 L437.86 112.70 L437.93 112.80 L438.00 112.89 L438.07 112.98 L438.15 113.08 L438.22 113.17 L438.29 113.27 L438.36 113.36 L438.43 113.46 L438.51 113.55 L438.58 113.64 L438.65 113.74 L438.72 113.83 L438.80 113.93 L438.87 114.02 L438.94 114.12 L439.01 114.21 L439.09 114.31 L439.16 114.40 L439.23 114.50 L439.30 114.59 L439.37 114.68 L439.45 114.78 L439.52 114.87 L439.59 114.97 L439.66 115.06 L439.74 115.16 L439.81 115.25 L439.88 115.35 L439.95 115.44 M445.09 122.31 L445.16 122.40 L445.23 122.50 L445.30 122.60 L445.37 122.70 L445.45 122.80 L445.52 122.89 L445.59 122.99 L445.66 123.09 L445.74 123.19 L445.81 123.29 L445.88 123.39 L445.95 123.49 L446.03 123.58 L446.10 123.68 L446.17 123.78 L446.24 123.88 L446.31 123.98 L446.39 124.08 L446.46 124.18 L446.53 124.27 L446.60 124.37 L446.68 124.47 L446.75 124.57 L446.82 124.67 L446.89 124.77 L446.96 124.87 L447.04 124.97 L447.11 125.07 L447.18 125.17 L447.25 125.26 L447.33 125.36 L447.40 125.46 L447.47 125.56 L447.54 125.66 L447.62 125.76 L447.69 125.86 L447.76 125.96 L447.83 126.06 L447.90 126.16 L447.98 126.26 L448.05 126.36 L448.12 126.46 L448.19 126.56 L448.27 126.66 L448.34 126.76 L448.41 126.86 L448.48 126.96 L448.56 127.06 L448.63 127.16 L448.70 127.26 L448.77 127.36 L448.84 127.46 L448.92 127.56 L448.99 127.66 L449.06 127.76 L449.13 127.86 L449.21 127.96 M452.31 132.30 L452.39 132.40 L452.46 132.50 L452.53 132.60 L452.60 132.70 L452.68 132.81 L452.75 132.91 L452.82 133.01 L452.89 133.11 L452.97 133.21 L453.04 133.32 L453.11 133.42 L453.18 133.52 L453.25 133.62 L453.33 133.73 L453.40 133.83 L453.47 133.93 L453.54 134.03 L453.62 134.13 L453.69 134.24 L453.76 134.34 L453.83 134.44 L453.91 134.54 L453.98 134.65 L454.05 134.75 L454.12 134.85 L454.19 134.95 L454.27 135.06 L454.34 135.16 L454.41 135.26 L454.48 135.36 L454.56 135.47 L454.63 135.57 L454.70 135.67 L454.77 135.78 L454.84 135.88 L454.92 135.98 L454.99 136.08 L455.06 136.19 L455.13 136.29 L455.21 136.39 L455.28 136.50 L455.35 136.60 L455.42 136.70 L455.50 136.80 L455.57 136.91 L455.64 137.01 L455.71 137.11 L455.78 137.22 L455.86 137.32 L455.93 137.42 L456.00 137.53 L456.07 137.63 L456.15 137.73 L456.22 137.84 L456.29 137.94 M460.92 144.63 L460.99 144.73 L461.06 144.84 L461.13 144.94 L461.21 145.05 L461.28 145.15 L461.35 145.26 L461.42 145.36 L461.50 145.47 L461.57 145.58 L461.64 145.68 L461.71 145.79 L461.78 145.89 L461.86 146.00 L461.93 146.10 L462.00 146.21 L462.07 146.31 L462.15 146.42 L462.22 146.53 L462.29 146.63 L462.36 146.74 L462.44 146.84 L462.51 146.95 L462.58 147.06 L462.65 147.16 L462.72 147.27 L462.80 147.37 L462.87 147.48 L462.94 147.59 L463.01 147.69 L463.09 147.80 L463.16 147.90 L463.23 148.01 L463.30 148.12 L463.38 148.22 L463.45 148.33 L463.52 148.44 L463.59 148.54 L463.66 148.65 L463.74 148.75 L463.81 148.86 L463.88 148.97 L463.95 149.07 L464.03 149.18 L464.10 149.29 L464.17 149.39 L464.24 149.50 L464.31 149.61 L464.39 149.71 L464.46 149.82 L464.53 149.93 L464.60 150.03 L464.68 150.14 L464.75 150.25 L464.82 150.35 L464.89 150.46 M468.80 156.26 L468.87 156.37 L468.94 156.47 L469.01 156.58 L469.09 156.69 L469.16 156.80 L469.23 156.91 L469.30 157.01 L469.38 157.12 L469.45 157.23 L469.52 157.34 L469.59 157.45 L469.66 157.55 L469.74 157.66 L469.81 157.77 L469.88 157.88 L469.95 157.99 L470.03 158.10 L470.10 158.20 L470.17 158.31 L470.24 158.42 L470.32 158.53 L470.39 158.64 L470.46 158.75 L470.53 158.85 L470.60 158.96 L470.68 159.07 L470.75 159.18 L470.82 159.29 L470.89 159.40 L470.97 159.50 L471.04 159.61 L471.11 159.72 L471.18 159.83 L471.26 159.94 L471.33 160.05 L471.40 160.16 L471.47 160.26 L471.54 160.37 L471.62 160.48 L471.69 160.59 L471.76 160.70 L471.83 160.81 L471.91 160.92 L471.98 161.03 L472.05 161.13 L472.12 161.24 L472.19 161.35 L472.27 161.46 L472.34 161.57 L472.41 161.68 L472.48 161.79 L472.56 161.90 L472.63 162.00 L472.70 162.11 M476.89 168.46 L476.97 168.57 L477.04 168.68 L477.11 168.79 L477.18 168.90 L477.26 169.01 L477.33 169.12 L477.40 169.23 L477.47 169.33 L477.54 169.44 L477.62 169.55 L477.69 169.66 L477.76 169.77 L477.83 169.88 L477.91 169.99 L477.98 170.10 L478.05 170.21 L478.12 170.32 L478.19 170.43 L478.27 170.54 L478.34 170.65 L478.41 170.76 L478.48 170.87 L478.56 170.98 L478.63 171.09 L478.70 171.20 L478.77 171.31 L478.85 171.42 L478.92 171.53 L478.99 171.64 L479.06 171.75 L479.13 171.86 L479.21 171.97 L479.28 172.08 L479.35 172.19 L479.42 172.30 L479.50 172.41 L479.57 172.52 L479.64 172.63 L479.71 172.74 L479.79 172.86 L479.86 172.97 L479.93 173.08 L480.00 173.19 L480.07 173.30 L480.15 173.41 L480.22 173.52 L480.29 173.63 L480.36 173.74 L480.44 173.85 L480.51 173.96 L480.58 174.07 L480.65 174.18 L480.73 174.29 M484.05 179.37 L484.12 179.48 L484.20 179.59 L484.27 179.70 L484.34 179.81 L484.41 179.92 L484.48 180.03 L484.56 180.14 L484.63 180.25 L484.70 180.36 L484.77 180.47 L484.85 180.58 L484.92 180.69 L484.99 180.80 L485.06 180.91 L485.13 181.02 L485.21 181.13 L485.28 181.25 L485.35 181.36 L485.42 181.47 L485.50 181.58 L485.57 181.69 L485.64 181.80 L485.71 181.91 L485.79 182.02 L485.86 182.13 L485.93 182.24 L486.00 182.35 L486.07 182.46 L486.15 182.57 L486.22 182.68 L486.29 182.79 L486.36 182.90 L486.44 183.01 L486.51 183.13 L486.58 183.24 L486.65 183.35 L486.73 183.46 L486.80 183.57 L486.87 183.68 L486.94 183.79 L487.01 183.90 L487.09 184.01 L487.16 184.12 L487.23 184.23 L487.30 184.34 L487.38 184.45 L487.45 184.56 L487.52 184.67 L487.59 184.78 L487.67 184.89 L487.74 185.01 L487.81 185.12 L487.88 185.23 M491.93 191.41 L492.00 191.52 L492.07 191.63 L492.15 191.75 L492.22 191.86 L492.29 191.97 L492.36 192.08 L492.44 192.19 L492.51 192.30 L492.58 192.41 L492.65 192.52 L492.73 192.63 L492.80 192.74 L492.87 192.85 L492.94 192.96 L493.01 193.07 L493.09 193.18 L493.16 193.29 L493.23 193.40 L493.30 193.51 L493.38 193.62 L493.45 193.73 L493.52 193.84 L493.59 193.95 L493.67 194.06 L493.74 194.17 L493.81 194.28 L493.88 194.39 L493.95 194.50 L494.03 194.61 L494.10 194.72 L494.17 194.83 L494.24 194.94 L494.32 195.05 L494.39 195.16 L494.46 195.27 L494.53 195.38 L494.61 195.49 L494.68 195.60 L494.75 195.71 L494.82 195.82 L494.89 195.93 L494.97 196.04 L495.04 196.15 L495.11 196.26 L495.18 196.37 L495.26 196.48 L495.33 196.59 L495.40 196.70 L495.47 196.81 L495.54 196.92 L495.62 197.03 L495.69 197.14 L495.76 197.25 M499.01 202.18 L499.09 202.29 L499.16 202.40 L499.23 202.51 L499.30 202.62 L499.38 202.73 L499.45 202.84 L499.52 202.95 L499.59 203.06 L499.67 203.16 L499.74 203.27 L499.81 203.38 L499.88 203.49 L499.95 203.60 L500.03 203.71 L500.10 203.82 L500.17 203.93 L500.24 204.04 L500.32 204.15 L500.39 204.25 L500.46 204.36 L500.53 204.47 L500.61 204.58 L500.68 204.69 L500.75 204.80 L500.82 204.91 L500.89 205.02 L500.97 205.12 L501.04 205.23 L501.11 205.34 L501.18 205.45 L501.26 205.56 L501.33 205.67 L501.40 205.78 L501.47 205.89 L501.55 205.99 L501.62 206.10 L501.69 206.21 L501.76 206.32 L501.83 206.43 L501.91 206.54 L501.98 206.64 L502.05 206.75 L502.12 206.86 L502.20 206.97 L502.27 207.08 L502.34 207.19 L502.41 207.30 L502.49 207.40 L502.56 207.51 L502.63 207.62 L502.70 207.73 L502.77 207.84 L502.85 207.94 L502.92 208.05 M507.69 215.14 L507.76 215.24 L507.83 215.35 L507.91 215.46 L507.98 215.56 L508.05 215.67 L508.12 215.77 L508.20 215.88 L508.27 215.99 L508.34 216.09 L508.41 216.20 L508.49 216.30 L508.56 216.41 L508.63 216.52 L508.70 216.62 L508.77 216.73 L508.85 216.83 L508.92 216.94 L508.99 217.05 L509.06 217.15 L509.14 217.26 L509.21 217.36 L509.28 217.47 L509.35 217.58 L509.43 217.68 L509.50 217.79 L509.57 217.89 L509.64 218.00 L509.71 218.10 L509.79 218.21 L509.86 218.31 L509.93 218.42 L510.00 218.52 L510.08 218.63 L510.15 218.74 L510.22 218.84 L510.29 218.95 L510.36 219.05 L510.44 219.16 L510.51 219.26 L510.58 219.37 L510.65 219.47 L510.73 219.58 L510.80 219.68 L510.87 219.79 L510.94 219.89 L511.02 220.00 L511.09 220.10 L511.16 220.21 L511.23 220.31 L511.30 220.42 L511.38 220.52 L511.45 220.63 L511.52 220.73 L511.59 220.83 L511.67 220.94 M516.15 227.34 L516.22 227.45 L516.29 227.55 L516.37 227.65 L516.44 227.75 L516.51 227.85 L516.58 227.96 L516.65 228.06 L516.73 228.16 L516.80 228.26 L516.87 228.36 L516.94 228.46 L517.02 228.57 L517.09 228.67 L517.16 228.77 L517.23 228.87 L517.30 228.97 L517.38 229.07 L517.45 229.17 L517.52 229.27 L517.59 229.38 L517.67 229.48 L517.74 229.58 L517.81 229.68 L517.88 229.78 L517.96 229.88 L518.03 229.98 L518.10 230.08 L518.17 230.18 L518.24 230.28 L518.32 230.38 L518.39 230.48 L518.46 230.58 L518.53 230.69 L518.61 230.79 L518.68 230.89 L518.75 230.99 L518.82 231.09 L518.90 231.19 L518.97 231.29 L519.04 231.39 L519.11 231.49 L519.18 231.59 L519.26 231.69 L519.33 231.79 L519.40 231.89 L519.47 231.99 L519.55 232.09 L519.62 232.19 L519.69 232.29 L519.76 232.39 L519.84 232.48 L519.91 232.58 L519.98 232.68 L520.05 232.78 L520.12 232.88 L520.20 232.98 L520.27 233.08 M525.11 239.60 L525.18 239.70 L525.26 239.80 L525.33 239.89 L525.40 239.99 L525.47 240.08 L525.55 240.18 L525.62 240.27 L525.69 240.37 L525.76 240.46 L525.84 240.56 L525.91 240.65 L525.98 240.74 L526.05 240.84 L526.12 240.93 L526.20 241.03 L526.27 241.12 L526.34 241.22 L526.41 241.31 L526.49 241.41 L526.56 241.50 L526.63 241.59 L526.70 241.69 L526.77 241.78 L526.85 241.88 L526.92 241.97 L526.99 242.06 L527.06 242.16 L527.14 242.25 L527.21 242.34 L527.28 242.44 L527.35 242.53 L527.43 242.63 L527.50 242.72 L527.57 242.81 L527.64 242.91 L527.71 243.00 L527.79 243.09 L527.86 243.18 L527.93 243.28 L528.00 243.37 L528.08 243.46 L528.15 243.56 L528.22 243.65 L528.29 243.74 L528.37 243.83 L528.44 243.93 L528.51 244.02 L528.58 244.11 L528.65 244.20 L528.73 244.30 L528.80 244.39 L528.87 244.48 L528.94 244.57 L529.02 244.66 L529.09 244.76 L529.16 244.85 L529.23 244.94 L529.31 245.03 L529.38 245.12 M533.28 249.96 L533.35 250.05 L533.43 250.14 L533.50 250.22 L533.57 250.31 L533.64 250.40 L533.71 250.49 L533.79 250.57 L533.86 250.66 L533.93 250.75 L534.00 250.83 L534.08 250.92 L534.15 251.01 L534.22 251.09 L534.29 251.18 L534.37 251.27 L534.44 251.35 L534.51 251.44 L534.58 251.53 L534.65 251.61 L534.73 251.70 L534.80 251.78 L534.87 251.87 L534.94 251.96 L535.02 252.04 L535.09 252.13 L535.16 252.21 L535.23 252.30 L535.31 252.38 L535.38 252.47 L535.45 252.55 L535.52 252.64 L535.59 252.72 L535.67 252.81 L535.74 252.89 L535.81 252.98 L535.88 253.06 L535.96 253.15 L536.03 253.23 L536.10 253.32 L536.17 253.40 L536.25 253.49 L536.32 253.57 L536.39 253.66 L536.46 253.74 L536.53 253.82 L536.61 253.91 L536.68 253.99 L536.75 254.08 L536.82 254.16 L536.90 254.24 L536.97 254.33 L537.04 254.41 L537.11 254.49 L537.18 254.58 L537.26 254.66 L537.33 254.74 L537.40 254.83 L537.47 254.91 L537.55 254.99 L537.62 255.07 L537.69 255.16 L537.76 255.24 L537.84 255.32 M542.82 260.81 L542.90 260.88 L542.97 260.96 L543.04 261.03 L543.11 261.11 L543.19 261.19 L543.26 261.26 L543.33 261.34 L543.40 261.41 L543.47 261.49 L543.55 261.56 L543.62 261.64 L543.69 261.71 L543.76 261.79 L543.84 261.86 L543.91 261.94 L543.98 262.01 L544.05 262.09 L544.12 262.16 L544.20 262.24 L544.27 262.31 L544.34 262.39 L544.41 262.46 L544.49 262.54 L544.56 262.61 L544.63 262.68 L544.70 262.76 L544.78 262.83 L544.85 262.91 L544.92 262.98 L544.99 263.05 L545.06 263.13 L545.14 263.20 L545.21 263.27 L545.28 263.35 L545.35 263.42 L545.43 263.49 L545.50 263.56 L545.57 263.64 L545.64 263.71 L545.72 263.78 L545.79 263.85 L545.86 263.93 L545.93 264.00 L546.00 264.07 L546.08 264.14 L546.15 264.21 L546.22 264.29 L546.29 264.36 L546.37 264.43 L546.44 264.50 L546.51 264.57 L546.58 264.64 L546.66 264.72 L546.73 264.79 L546.80 264.86 L546.87 264.93 L546.94 265.00 L547.02 265.07 L547.09 265.14 L547.16 265.21 L547.23 265.28 L547.31 265.35 L547.38 265.42 L547.45 265.49 L547.52 265.56 L547.60 265.63 L547.67 265.70 L547.74 265.77 M551.79 269.51 L551.86 269.57 L551.93 269.63 L552.00 269.70 L552.08 269.76 L552.15 269.82 L552.22 269.89 L552.29 269.95 L552.37 270.01 L552.44 270.07 L552.51 270.14 L552.58 270.20 L552.66 270.26 L552.73 270.32 L552.80 270.39 L552.87 270.45 L552.94 270.51 L553.02 270.57 L553.09 270.63 L553.16 270.70 L553.23 270.76 L553.31 270.82 L553.38 270.88 L553.45 270.94 L553.52 271.00 L553.60 271.06 L553.67 271.13 L553.74 271.19 L553.81 271.25 L553.88 271.31 L553.96 271.37 L554.03 271.43 L554.10 271.49 L554.17 271.55 L554.25 271.61 L554.32 271.67 L554.39 271.73 L554.46 271.79 L554.54 271.85 L554.61 271.91 L554.68 271.97 L554.75 272.02 L554.82 272.08 L554.90 272.14 L554.97 272.20 L555.04 272.26 L555.11 272.32 L555.19 272.38 L555.26 272.44 L555.33 272.49 L555.40 272.55 L555.47 272.61 L555.55 272.67 L555.62 272.73 L555.69 272.78 L555.76 272.84 L555.84 272.90 L555.91 272.96 L555.98 273.01 L556.05 273.07 L556.13 273.13 L556.20 273.18 L556.27 273.24 L556.34 273.30 L556.41 273.35 L556.49 273.41 L556.56 273.47 L556.63 273.52 L556.70 273.58 L556.78 273.64 L556.85 273.69 L556.92 273.75 L556.99 273.80 L557.07 273.86 L557.14 273.91 M562.56 277.73 L562.63 277.77 L562.70 277.82 L562.78 277.87 L562.85 277.91 L562.92 277.96 L562.99 278.00 L563.07 278.05 L563.14 278.09 L563.21 278.14 L563.28 278.18 L563.35 278.23 L563.43 278.27 L563.50 278.32 L563.57 278.36 L563.64 278.41 L563.72 278.45 L563.79 278.50 L563.86 278.54 L563.93 278.58 L564.01 278.63 L564.08 278.67 L564.15 278.72 L564.22 278.76 L564.29 278.80 L564.37 278.85 L564.44 278.89 L564.51 278.93 L564.58 278.97 L564.66 279.02 L564.73 279.06 L564.80 279.10 L564.87 279.14 L564.94 279.19 L565.02 279.23 L565.09 279.27 L565.16 279.31 L565.23 279.35 L565.31 279.40 L565.38 279.44 L565.45 279.48 L565.52 279.52 L565.60 279.56 L565.67 279.60 L565.74 279.64 L565.81 279.68 L565.88 279.72 L565.96 279.76 L566.03 279.80 L566.10 279.84 L566.17 279.88 L566.25 279.92 L566.32 279.96 L566.39 280.00 L566.46 280.04 L566.54 280.08 L566.61 280.12 L566.68 280.16 L566.75 280.20 L566.82 280.24 L566.90 280.28 L566.97 280.32 L567.04 280.35 L567.11 280.39 L567.19 280.43 L567.26 280.47 L567.33 280.51 L567.40 280.55 L567.48 280.58 L567.55 280.62 L567.62 280.66 L567.69 280.70 L567.76 280.73 L567.84 280.77 L567.91 280.81 L567.98 280.84 L568.05 280.88 L568.13 280.92 L568.20 280.95 L568.27 280.99 L568.34 281.03 L568.41 281.06 L568.49 281.10 L568.56 281.13 L568.63 281.17 L568.70 281.20 M573.84 283.39 L573.91 283.41 L573.98 283.44 L574.05 283.47 L574.13 283.49 L574.20 283.52 L574.27 283.54 L574.34 283.57 L574.42 283.59 L574.49 283.62 L574.56 283.64 L574.63 283.67 L574.70 283.69 L574.78 283.72 L574.85 283.74 L574.92 283.76 L574.99 283.79 L575.07 283.81 L575.14 283.84 L575.21 283.86 L575.28 283.88 L575.36 283.91 L575.43 283.93 L575.50 283.95 L575.57 283.97 L575.64 284.00 L575.72 284.02 L575.79 284.04 L575.86 284.06 L575.93 284.09 L576.01 284.11 L576.08 284.13 L576.15 284.15 L576.22 284.17 L576.29 284.20 L576.37 284.22 L576.44 284.24 L576.51 284.26 L576.58 284.28 L576.66 284.30 L576.73 284.32 L576.80 284.34 L576.87 284.36 L576.95 284.38 L577.02 284.40 L577.09 284.42 L577.16 284.44 L577.23 284.46 L577.31 284.48 L577.38 284.50 L577.45 284.52 L577.52 284.54 L577.60 284.56 L577.67 284.58 L577.74 284.60 L577.81 284.62 L577.89 284.63 L577.96 284.65 L578.03 284.67 L578.10 284.69 L578.17 284.71 L578.25 284.72 L578.32 284.74 L578.39 284.76 L578.46 284.78 L578.54 284.79 L578.61 284.81 L578.68 284.83 L578.75 284.85 L578.83 284.86 L578.90 284.88 L578.97 284.89 L579.04 284.91 L579.11 284.93 L579.19 284.94 L579.26 284.96 L579.33 284.98 L579.40 284.99 L579.48 285.01 L579.55 285.02 L579.62 285.04 L579.69 285.05 L579.76 285.07 L579.84 285.08 L579.91 285.10 L579.98 285.11 L580.05 285.12 L580.13 285.14 L580.20 285.15 L580.27 285.17 L580.34 285.18 L580.42 285.19 L580.49 285.21 L580.56 285.22" fill="none" stroke="#000" stroke-width="2.1"/>
<g fill="none" stroke="#000" stroke-width="2.1" stroke-dasharray="7.2 4.1 1.7 3.5"><path d="M67.00 285.86 L70.02 285.83 L73.04 285.74 L76.07 285.59 L79.09 285.38 L82.11 285.10 L85.13 284.77 L88.16 284.38 L91.18 283.93 L94.20 283.43"/><path d="M94.20 283.43 L97.27 282.86 L100.34 282.23 L103.41 281.54 L106.47 280.80 L109.54 280.01 L112.61 279.17 L115.68 278.27 L118.75 277.33"/><path d="M118.75 277.33 L121.82 276.34 L124.89 275.30 L127.96 274.22 L131.03 273.10 L134.09 271.94 L137.16 270.74 L140.23 269.51 L143.30 268.24"/><path d="M143.30 268.24 L146.22 267.00 L149.15 265.74 L152.07 264.45 L155.00 263.14 L157.92 261.81 L160.85 260.46 L163.77 259.09 L166.70 257.70"/><path d="M166.70 257.70 L169.52 256.36 L172.35 255.00 L175.17 253.63 L178.00 252.25 L180.82 250.87 L183.65 249.49 L186.47 248.10 L189.30 246.72"/><path d="M189.30 246.72 L192.37 245.21 L195.44 243.71 L198.51 242.21 L201.59 240.72 L204.66 239.24 L207.73 237.77 L210.80 236.32"/><path d="M210.80 236.32 L213.78 234.93 L216.75 233.55 L219.73 232.19 L222.70 230.84 L225.68 229.52 L228.65 228.22 L231.62 226.95 L234.60 225.70"/><path d="M234.60 225.70 L237.65 224.44 L240.70 223.22 L243.75 222.02 L246.80 220.86 L249.85 219.73 L252.90 218.63 L255.95 217.57 L259.00 216.54"/><path d="M259.00 216.54 L261.83 215.62 L264.67 214.74 L267.50 213.88 L270.33 213.07 L273.17 212.28 L276.00 211.54 L278.83 210.83 L281.67 210.15 L284.50 209.52"/><path d="M284.50 209.52 L287.28 208.93 L290.06 208.38 L292.84 207.87 L295.62 207.40 L298.40 206.97 L301.18 206.57 L303.96 206.21 L306.74 205.90 L309.52 205.62 L312.30 205.38"/><path d="M312.30 205.38 L315.11 205.18 L317.92 205.03 L320.73 204.91 L323.53 204.83 L326.34 204.80 L329.15 204.81 L331.96 204.86 L334.77 204.95 L337.57 205.08 L340.38 205.25 L343.19 205.46 L346.00 205.72"/><path d="M346.00 205.72 L349.00 206.03 L352.00 206.40 L355.00 206.80 L358.00 207.26 L361.00 207.76 L364.00 208.30 L367.00 208.89"/><path d="M367.00 208.89 L369.78 209.47 L372.56 210.09 L375.33 210.74 L378.11 211.44 L380.89 212.16 L383.67 212.92 L386.44 213.72 L389.22 214.55 L392.00 215.41"/><path d="M392.00 215.41 L395.00 216.38 L398.00 217.38 L401.00 218.42 L404.00 219.49 L407.00 220.59 L410.00 221.73 L413.00 222.90 L416.00 224.10"/><path d="M416.00 224.10 L418.94 225.30 L421.87 226.53 L424.81 227.78 L427.75 229.05 L430.69 230.35 L433.62 231.67 L436.56 233.00 L439.50 234.36"/><path d="M439.50 234.36 L442.31 235.67 L445.12 236.99 L447.94 238.33 L450.75 239.68 L453.56 241.04 L456.38 242.40 L459.19 243.77 L462.00 245.15"/><path d="M462.00 245.15 L464.91 246.57 L467.82 248.00 L470.74 249.43 L473.65 250.86 L476.56 252.28 L479.48 253.70 L482.39 255.11 L485.30 256.51"/><path d="M485.30 256.51 L488.18 257.88 L491.05 259.24 L493.93 260.58 L496.80 261.91 L499.68 263.22 L502.55 264.51 L505.43 265.77 L508.30 267.01"/><path d="M508.30 267.01 L511.27 268.27 L514.25 269.50 L517.23 270.70 L520.20 271.86 L523.17 272.99 L526.15 274.08 L529.12 275.13 L532.10 276.14"/><path d="M532.10 276.14 L534.97 277.08 L537.83 277.97 L540.70 278.83 L543.57 279.63 L546.43 280.40 L549.30 281.12 L552.17 281.79 L555.03 282.41 L557.90 282.99"/><path d="M557.90 282.99 L560.86 283.53 L563.82 284.01 L566.78 284.44 L569.74 284.82 L572.70 285.14 L575.66 285.40 L578.62 285.60 L581.58 285.75 L584.54 285.83 L587.50 285.86"/></g>
<path d="M95.8 46.1 L119.1 46.1" stroke="#000" stroke-width="1.6"/>
<path d="M95.70 64.85 L97.30 64.85 M101.20 64.85 L102.80 64.85 M106.60 64.85 L108.20 64.85 M112.10 64.85 L113.70 64.85 M117.40 64.85 L119.00 64.85" stroke="#000" stroke-width="1.6"/>
<path d="M96.3 83.0 L103.1 83.0 M111.7 83.0 L118.5 83.0" stroke="#000" stroke-width="1.6"/>
<path d="M96.3 101.5 L103.1 101.5 M107.7 101.5 L109.3 101.5 M113.8 101.5 L118.5 101.5" stroke="#000" stroke-width="1.6"/>
</g></svg><figcaption class="sr">Adiabatic Focusing Length L (AU) vs Co-latitude θ (°). r, V: 1 AU, 400; 1 AU, 800; 2 AU, 400; 2 AU, 800.</figcaption></figure></body></html>
